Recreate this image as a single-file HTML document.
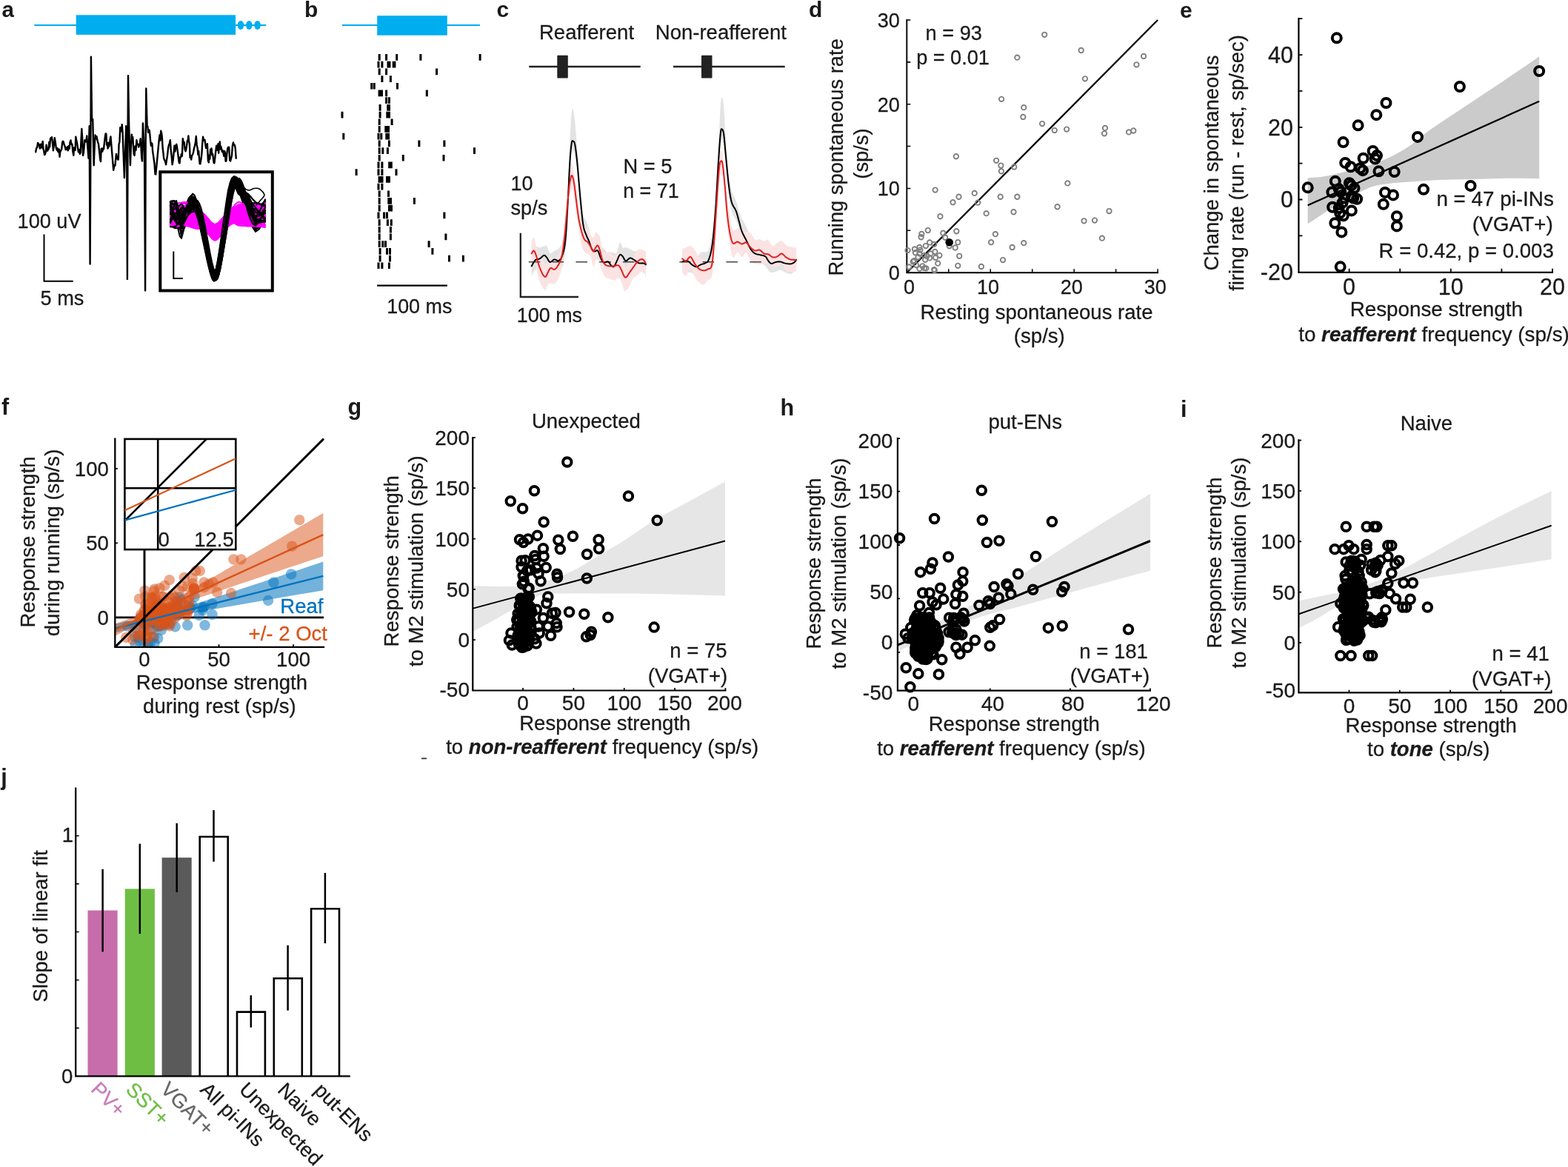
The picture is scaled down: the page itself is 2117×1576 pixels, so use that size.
<!DOCTYPE html>
<html lang="en"><head><meta charset="utf-8"><title>Figure</title>
<style>html,body{margin:0;padding:0;background:#fff}svg{display:block}text{stroke:#1a1a1a;stroke-width:.28px}.b{stroke:none}</style></head>
<body>
<svg width="2117" height="1576" viewBox="0 0 2117 1576" font-family="'Liberation Sans', sans-serif" font-size="27.55" fill="#1a1a1a">
<rect width="2117" height="1576" fill="#fff"/>
<g id="p-a">
<text x="2.5" y="22.8" font-weight="bold" class="b" font-size="29.5">a</text>
<line x1="46.3" y1="34" x2="359.3" y2="34" stroke="#00aeef" stroke-width="2"/>
<rect x="102.7" y="20.3" width="215.4" height="26.6" fill="#00aeef"/>
<ellipse cx="325" cy="34" rx="4.3" ry="6" fill="#00aeef"/>
<ellipse cx="336.3" cy="34" rx="4.3" ry="6" fill="#00aeef"/>
<ellipse cx="347.6" cy="34" rx="4.3" ry="6" fill="#00aeef"/>
<path d="M48.2 205.2L49.2 200.0L50.1 199.2L51.1 192.9L52.0 194.5L53.0 196.6L53.9 200.5L54.7 194.7L55.4 195.8L56.2 199.5L56.9 194.7L57.7 191.0L58.5 201.4L59.3 204.0L60.1 209.0L60.9 208.5L61.7 205.5L62.6 195.6L63.4 200.5L64.1 203.7L64.9 201.8L65.6 201.4L66.4 191.9L67.1 198.6L68.1 186.8L69.0 186.0L70.0 185.3L70.9 192.4L71.9 203.3L72.8 196.1L73.8 186.3L74.7 191.5L75.7 199.2L76.6 202.4L77.4 200.1L78.2 204.6L79.0 205.4L79.7 201.5L80.5 211.9L81.3 205.2L82.3 203.1L83.2 201.4L84.2 192.0L84.9 190.7L85.7 191.5L86.4 194.5L87.2 196.8L87.9 198.6L88.7 202.2L89.5 201.5L90.2 199.5L91.0 198.3L91.7 203.3L92.7 197.3L93.6 200.9L94.6 192.0L95.5 189.5L96.5 194.9L97.4 194.8L98.3 204.2L99.3 209.9L100.0 199.5L100.8 201.8L101.6 202.9L102.3 184.8L103.1 189.1L104.0 193.1L105.0 199.4L105.9 205.2L106.9 202.1L107.8 207.9L108.7 206.1L109.5 189.8L110.3 174.0L111.1 185.8L112.0 209.9L112.8 206.5L113.6 198.9L114.4 189.1L115.4 191.2L116.3 191.4L117.3 183.5L118.0 195.1L118.8 204.1L119.5 213.7L120.7 170.2L121.6 356.5L122.4 189.1L122.9 76.6L124.1 162.6L125.2 160.8L126.7 223.2L127.7 197.4L128.6 182.5L129.6 187.3L130.5 184.3L131.4 189.1L132.2 192.5L133.0 194.4L133.7 200.9L134.5 208.1L135.2 215.6L136.0 218.0L136.7 201.0L137.5 200.4L138.3 204.5L139.0 200.5L140.0 201.5L140.9 192.8L141.8 185.3L142.6 180.4L143.4 180.8L144.1 195.9L144.9 194.4L145.6 200.5L146.4 192.6L147.1 198.1L147.9 195.5L148.7 188.3L149.4 184.4L153.2 229.8L153.9 226.5L154.7 222.9L155.5 223.4L156.2 215.0L157.0 208.0L157.9 212.7L158.9 215.4L159.8 215.6L160.6 194.5L161.4 192.0L162.3 172.1L163.1 177.5L163.9 177.2L164.7 168.1L165.5 177.8L167.9 240.2L170.2 170.2L171.2 208.0L171.9 376.9L172.5 189.1L173.0 102.1L174.2 170.2L175.9 223.2L176.8 199.7L177.8 181.6L178.5 190.8L179.3 185.3L180.0 197.8L180.8 208.5L181.6 209.9L182.5 197.5L183.5 202.8L184.4 189.1L185.3 194.6L186.3 194.8L187.2 198.6L188.1 196.2L188.9 193.7L189.7 187.2L190.4 197.8L191.2 212.2L192.0 217.5L192.9 166.4L193.9 184.5L195.0 208.0L196.1 392.4L196.7 189.1L197.3 119.5L198.6 170.2L199.3 170.7L200.1 179.1L200.9 177.1L201.6 175.6L202.4 181.6L203.1 190.1L203.9 196.8L204.6 193.3L205.4 193.9L206.1 204.3L207.0 209.9L207.8 216.1L208.6 221.7L209.5 235.1L210.3 235.5L214.7 189.1L215.5 182.4L216.4 189.7L217.2 176.7L218.1 179.7L218.8 184.9L219.6 199.3L220.3 205.2L221.1 213.3L221.8 215.6L222.6 216.9L223.4 219.4L224.1 222.2L225.1 215.6L226.0 210.1L227.0 200.5L227.9 196.0L228.8 194.1L229.8 189.1L230.7 202.6L231.7 211.2L232.6 222.2L233.6 216.9L234.5 207.6L235.5 196.7L236.4 204.5L237.4 196.8L238.3 194.8L239.1 199.1L240.0 205.5L240.9 213.2L241.7 219.4L242.5 220.4L243.3 212.3L244.1 212.5L244.9 208.0L245.9 210.7L246.8 187.2L247.8 192.9L248.7 192.0L249.6 201.5L250.6 204.3L251.3 201.8L252.1 196.9L252.9 190.0L253.6 190.4L254.4 183.5L255.1 191.1L255.9 194.1L256.6 212.9L257.4 210.7L258.2 215.6L259.1 210.1L260.0 208.9L261.0 206.1L261.9 200.8L262.9 197.1L263.8 192.9L264.8 184.0L265.7 195.9L266.7 200.5L267.4 208.9L268.2 203.9L268.9 212.7L269.7 221.1L270.4 221.3L271.4 215.4L272.3 208.6L273.3 192.9L274.1 184.8L274.9 189.5L275.7 188.6L276.5 189.1L277.3 194.9L278.1 200.0L279.0 198.6L279.9 194.2L280.9 217.0L281.8 219.4L282.6 209.5L283.3 214.7L284.1 201.8L284.8 205.0L285.6 200.5L286.3 209.5L287.1 207.8L287.8 213.2L288.6 219.7L289.4 220.3L290.3 213.0L291.3 204.2L292.2 196.7L293.0 202.8L293.7 200.3L294.5 194.3L295.2 206.7L296.0 194.8L296.8 191.4L297.6 201.5L298.3 197.9L299.1 201.0L299.9 204.9L300.7 203.3L301.5 206.6L302.3 210.7L303.1 204.0L303.9 206.4L304.6 217.7L305.4 217.5L306.4 207.1L307.3 200.6L308.3 198.6L309.2 198.7L310.2 216.5L311.1 217.5L312.1 213.7L313.0 209.8L313.9 196.7L314.9 192.4L315.8 196.1L316.8 195.7L317.7 199.9L318.7 213.7" fill="none" stroke="#000" stroke-width="2.4" stroke-linejoin="round" stroke-linecap="round"/>
<path d="M59.5 316.5 L59.5 379.7 L98.7 379.7" fill="none" stroke="#000" stroke-width="2"/>
<text x="23.6" y="307.6" font-size="27.1">100 uV</text>
<text x="54.5" y="411.8" font-size="27.2">5 ms</text>
<rect x="216.3" y="232.2" width="151.5" height="160.3" fill="#fff" stroke="#000" stroke-width="4"/>
<g fill="none" stroke-linejoin="round" stroke-linecap="round">
<path d="M230.0 290.4L232.1 290.8L235.1 291.4L238.0 293.2L240.5 297.9L242.8 303.7L245.0 305.7L246.9 301.0L248.5 292.4L250.5 284.0L253.0 276.1L255.8 268.5L258.6 264.8L261.3 266.8L264.0 272.8L266.7 281.1L269.3 292.1L272.0 305.3L274.7 318.7L277.5 332.3L280.2 346.0L282.8 357.2L285.0 365.4L287.1 371.0L289.0 373.1L290.9 371.4L292.8 366.1L294.9 357.2L297.4 343.6L300.2 326.4L303.0 309.1L305.7 291.6L308.4 274.0L311.0 259.9L313.6 250.5L316.0 244.6L318.5 242.6L321.0 245.9L323.5 253.1L326.2 259.9L329.0 264.9L331.9 269.5L335.0 274.3L338.1 281.0L341.4 288.0L345.0 291.4L349.6 288.1L354.5 281.2L358.0 276.1" stroke="#000" stroke-width="2.2"/>
<path d="M230.0 277.7L232.1 282.4L235.1 289.2L238.0 295.1L240.4 300.2L242.7 304.5L245.0 305.5L247.5 301.1L250.0 293.5L252.6 286.4L255.3 280.5L258.0 275.2L260.7 272.7L263.4 273.8L266.1 277.7L268.8 284.3L271.5 294.4L274.2 307.1L276.8 320.2L279.6 333.9L282.4 347.9L284.9 359.4L287.1 367.7L289.2 373.4L291.2 375.5L293.1 373.8L294.9 368.4L297.0 359.4L299.5 345.5L302.3 328.0L305.1 310.4L307.8 292.6L310.5 274.7L313.1 260.5L315.7 250.9L318.1 244.9L320.6 242.8L323.2 246.1L325.8 253.4L328.3 260.5L330.5 265.8L332.5 271.0L335.0 276.8L338.0 284.7L341.3 293.2L345.0 298.5L349.6 298.3L354.5 295.0L358.0 292.4" stroke="#000" stroke-width="2.2"/>
<path d="M230.0 300.0L232.1 294.9L235.1 288.0L238.0 284.3L240.6 287.4L243.0 293.8L245.0 297.6L246.1 296.2L246.8 292.1L248.1 288.0L250.5 283.7L253.5 279.3L256.5 277.2L259.3 277.8L262.1 280.7L264.9 286.4L267.7 295.9L270.5 308.3L273.3 321.2L276.2 334.8L279.1 348.9L281.8 360.5L284.1 368.8L286.2 374.6L288.3 376.7L290.3 374.9L292.2 369.5L294.4 360.5L297.0 346.6L299.9 329.0L302.8 311.3L305.6 293.5L308.4 275.5L311.2 261.2L313.8 251.6L316.4 245.6L319.0 243.5L321.6 246.3L324.3 253.1L327.0 261.2L329.6 271.2L332.2 282.5L335.0 290.3L338.1 291.5L341.4 289.2L345.0 288.1L349.6 290.5L354.5 294.2L358.0 296.9" stroke="#000" stroke-width="2.2"/>
<path d="M230.0 277.4L232.1 278.1L235.1 279.2L238.0 280.6L240.5 282.3L242.9 284.4L245.0 286.1L246.7 287.8L248.1 289.2L249.9 289.3L252.5 287.0L255.4 283.4L258.3 281.5L261.1 281.6L263.9 283.4L266.7 288.1L269.5 297.1L272.2 309.1L275.0 321.7L277.9 335.2L280.7 349.4L283.4 361.0L285.7 369.3L287.8 375.0L289.9 377.2L291.8 375.4L293.8 370.0L295.9 361.0L298.6 347.1L301.4 329.5L304.3 311.9L307.1 294.1L309.9 276.1L312.7 261.8L315.3 252.2L317.8 246.2L320.4 244.1L323.1 246.9L325.8 253.7L328.4 261.8L330.5 272.3L332.6 284.2L335.0 292.4L338.0 293.9L341.3 291.8L345.0 290.2L349.6 290.7L354.5 291.6L358.0 292.4" stroke="#000" stroke-width="2.2"/>
<path d="M230.0 285.2L232.1 283.9L235.1 282.2L238.0 281.6L240.4 283.2L242.8 285.9L245.0 287.8L247.0 288.3L248.9 287.9L251.1 286.6L253.6 283.0L256.3 278.4L259.1 275.9L261.8 276.6L264.4 279.4L267.1 285.0L269.8 294.3L272.4 306.5L275.1 319.1L277.8 332.5L280.6 346.4L283.1 357.7L285.3 365.9L287.4 371.5L289.3 373.6L291.2 371.9L293.0 366.6L295.1 357.7L297.6 344.1L300.4 326.8L303.1 309.5L305.8 292.0L308.5 274.3L311.2 260.3L313.7 250.8L316.1 244.9L318.6 242.9L321.0 245.7L323.5 252.3L326.2 260.3L329.0 270.6L331.9 282.1L335.0 289.0L338.1 286.8L341.4 279.9L345.0 275.1L349.6 275.3L354.5 277.5L358.0 279.2" stroke="#000" stroke-width="2.2"/>
<path d="M230.0 303.7L232.1 300.9L235.1 297.0L238.0 295.0L240.4 297.1L242.8 301.0L245.0 302.6L247.0 299.6L248.8 294.2L251.0 289.1L253.6 284.5L256.4 280.2L259.3 278.1L262.1 278.8L264.8 281.7L267.6 287.4L270.4 297.1L273.1 309.6L275.9 322.6L278.8 336.3L281.6 350.6L284.2 362.3L286.5 370.7L288.6 376.5L290.7 378.7L292.6 376.9L294.5 371.4L296.7 362.3L299.3 348.2L302.1 330.5L305.0 312.6L307.8 294.6L310.6 276.5L313.3 262.0L315.9 252.3L318.5 246.2L321.0 244.1L323.7 247.9L326.4 255.6L328.9 262.0L330.9 264.0L332.7 264.8L335.0 268.6L337.9 279.9L341.3 294.2L345.0 303.4L349.6 302.3L354.5 296.1L358.0 291.2" stroke="#000" stroke-width="2.2"/>
<path d="M230.0 295.2L232.1 292.2L235.1 288.2L238.0 284.7L240.3 282.2L242.5 280.3L245.0 279.4L248.0 280.6L251.3 282.8L254.4 283.0L257.0 278.7L259.3 272.3L261.7 268.9L264.1 270.1L266.6 274.1L269.0 280.9L271.4 291.2L273.9 304.3L276.3 317.7L278.8 331.8L281.3 346.2L283.6 358.0L285.6 366.5L287.5 372.4L289.3 374.6L291.0 372.8L292.6 367.3L294.5 358.0L296.8 343.8L299.3 325.8L301.8 307.7L304.3 289.4L306.8 271.0L309.2 256.3L311.4 246.5L313.7 240.3L315.9 238.2L318.0 241.9L320.1 249.6L322.8 256.3L326.6 259.4L330.9 261.5L335.0 265.8L338.4 275.6L341.5 287.6L345.0 296.1L349.6 298.2L354.5 296.8L358.0 295.4" stroke="#000" stroke-width="2.2"/>
<path d="M230.0 299.2L232.1 301.1L235.1 303.7L238.0 304.2L240.5 301.2L242.9 296.3L245.0 291.8L246.4 289.1L247.6 286.8L249.1 283.3L251.5 276.6L254.4 268.7L257.3 264.6L260.0 266.6L262.8 272.4L265.5 280.5L268.2 291.1L270.9 304.0L273.7 316.9L276.5 330.1L279.3 343.4L281.9 354.3L284.1 362.2L286.2 367.7L288.2 369.7L290.1 368.0L292.0 362.9L294.1 354.3L296.7 341.1L299.5 324.4L302.3 307.6L305.1 290.6L307.8 273.6L310.5 260.0L313.1 250.8L315.5 245.1L318.1 243.2L320.6 245.7L323.1 252.1L325.8 260.0L328.8 270.6L331.8 282.9L335.0 290.8L338.2 291.1L341.4 287.1L345.0 282.8L349.6 278.9L354.5 274.6L358.0 271.6" stroke="#000" stroke-width="2.2"/>
<path d="M230.0 279.2L232.1 283.3L235.1 289.2L238.0 294.7L240.3 300.3L242.4 305.5L245.0 306.8L248.5 301.6L252.5 292.5L256.0 284.4L258.7 278.4L261.0 273.4L263.3 271.2L265.7 272.2L268.1 276.0L270.5 282.4L272.9 292.2L275.4 304.5L277.8 317.1L280.2 330.4L282.7 343.9L285.0 355.0L287.0 363.1L288.9 368.6L290.6 370.7L292.3 369.0L294.0 363.8L295.9 355.0L298.2 341.6L300.7 324.7L303.1 307.7L305.6 290.5L308.0 273.1L310.4 259.3L312.7 250.0L314.9 244.3L317.1 242.3L319.2 245.7L321.4 252.9L324.0 259.3L327.4 263.0L331.3 265.9L335.0 269.3L338.3 274.9L341.5 280.9L345.0 284.2L349.6 282.0L354.5 277.1L358.0 273.3" stroke="#000" stroke-width="2.2"/>
<path d="M230.0 291.9L232.1 292.0L235.1 292.2L238.0 292.8L240.3 294.7L242.5 297.2L245.0 297.7L248.1 295.3L251.4 290.9L254.5 286.3L257.3 280.9L259.8 275.1L262.3 272.2L264.9 273.4L267.5 277.4L270.1 284.2L272.7 294.5L275.3 307.6L277.9 321.1L280.6 335.2L283.3 349.6L285.7 361.5L287.9 370.0L289.9 375.9L291.8 378.1L293.6 376.3L295.4 370.7L297.4 361.5L299.9 347.2L302.6 329.2L305.3 311.0L307.9 292.7L310.5 274.3L313.1 259.6L315.5 249.8L317.9 243.6L320.3 241.5L322.7 244.4L325.2 251.3L327.7 259.6L330.0 269.9L332.4 281.5L335.0 289.9L338.0 292.7L341.3 292.3L345.0 291.1L349.6 289.3L354.5 286.6L358.0 284.6" stroke="#000" stroke-width="2.2"/>
<path d="M230.0 289.7L232.1 284.6L235.1 277.8L238.0 274.4L240.3 278.1L242.5 285.2L245.0 290.2L248.2 290.7L251.7 289.0L255.0 286.5L257.7 282.8L260.1 278.3L262.6 276.0L265.1 276.6L267.6 279.4L270.1 284.9L272.7 294.2L275.2 306.3L277.7 318.8L280.3 332.1L282.9 345.8L285.3 357.1L287.4 365.2L289.3 370.8L291.2 372.9L293.0 371.1L294.7 365.9L296.7 357.1L299.0 343.5L301.6 326.4L304.2 309.2L306.8 291.9L309.3 274.4L311.8 260.4L314.2 251.1L316.5 245.2L318.8 243.2L321.2 246.4L323.5 253.4L326.0 260.4L328.9 267.1L331.9 273.9L335.0 278.2L338.1 277.9L341.4 275.3L345.0 274.7L349.6 278.9L354.5 285.3L358.0 289.9" stroke="#000" stroke-width="2.2"/>
<path d="M230.0 300.5L232.1 298.4L235.1 295.5L238.0 292.6L240.3 289.7L242.4 287.0L245.0 285.0L248.5 284.8L252.4 285.5L255.9 284.7L258.6 280.1L260.9 274.1L263.2 270.9L265.7 272.0L268.1 275.9L270.5 282.6L273.0 292.7L275.4 305.5L277.8 318.7L280.3 332.5L282.8 346.6L285.1 358.2L287.1 366.5L289.0 372.3L290.8 374.4L292.5 372.6L294.2 367.2L296.1 358.2L298.4 344.2L300.9 326.6L303.4 308.8L305.8 290.9L308.3 272.9L310.7 258.5L312.9 248.9L315.2 242.8L317.4 240.8L319.6 244.1L321.8 251.5L324.3 258.5L327.6 263.7L331.4 268.7L335.0 274.0L338.3 280.1L341.5 286.6L345.0 292.0L349.6 295.6L354.5 298.1L358.0 299.7" stroke="#000" stroke-width="2.2"/>
<path d="M230.0 282.8L232.1 283.7L235.1 285.1L238.0 286.2L240.4 286.8L242.8 287.3L245.0 287.5L247.0 287.8L248.8 287.9L250.9 286.8L253.3 283.2L256.0 278.5L258.7 276.0L261.3 276.6L263.9 279.5L266.5 285.2L269.1 294.8L271.7 307.2L274.3 320.1L276.9 333.8L279.6 348.0L282.1 359.6L284.2 367.9L286.2 373.7L288.1 375.9L289.9 374.1L291.7 368.7L293.7 359.6L296.2 345.6L298.9 328.0L301.5 310.3L304.2 292.4L306.8 274.4L309.3 260.0L311.8 250.3L314.1 244.3L316.5 242.2L318.8 245.7L321.2 253.2L323.9 260.0L327.4 263.9L331.3 267.1L335.0 271.5L338.3 279.4L341.5 288.5L345.0 293.6L349.6 291.3L354.5 285.0L358.0 280.2" stroke="#000" stroke-width="2.2"/>
<path d="M230.0 277.3L232.1 281.1L235.1 286.3L238.0 291.0L240.5 294.8L242.9 297.9L245.0 298.7L246.5 296.0L247.7 291.0L249.4 285.4L251.9 278.3L254.9 270.7L257.8 266.8L260.6 268.8L263.4 274.6L266.3 282.6L269.1 293.2L271.9 306.1L274.7 319.0L277.6 332.2L280.5 345.5L283.1 356.3L285.5 364.2L287.6 369.7L289.7 371.7L291.6 370.0L293.6 364.9L295.8 356.3L298.4 343.1L301.3 326.4L304.2 309.7L307.0 292.8L309.9 275.7L312.6 262.1L315.3 253.0L317.9 247.3L320.4 245.3L323.2 248.8L325.9 256.0L328.5 262.1L330.6 265.0L332.6 266.8L335.0 269.6L338.0 274.6L341.3 280.5L345.0 285.5L349.6 288.8L354.5 291.3L358.0 292.9" stroke="#000" stroke-width="2.2"/>
<path d="M230.0 280.2L232.1 286.1L235.1 294.2L238.0 300.9L240.3 305.6L242.4 308.8L245.0 308.7L248.4 303.4L252.3 294.8L255.7 287.3L258.4 282.2L260.8 278.3L263.1 276.5L265.5 277.2L268.0 280.0L270.4 285.7L272.9 295.3L275.4 307.7L277.8 320.6L280.3 334.2L282.8 348.3L285.2 359.9L287.2 368.2L289.0 374.0L290.9 376.2L292.6 374.4L294.3 369.0L296.2 359.9L298.5 346.0L301.0 328.4L303.5 310.7L306.0 292.9L308.5 274.9L310.9 260.5L313.2 250.9L315.4 244.9L317.7 242.8L319.9 246.7L322.1 254.5L324.7 260.5L327.9 261.2L331.5 260.1L335.0 262.8L338.2 274.4L341.5 289.7L345.0 298.8L349.6 295.3L354.5 285.5L358.0 278.1" stroke="#000" stroke-width="2.2"/>
<path d="M230.0 278.3L232.1 284.6L235.1 293.3L238.0 300.0L240.3 303.4L242.6 304.8L245.0 304.0L247.9 299.7L251.1 293.2L254.1 287.9L256.7 285.1L259.2 283.5L261.7 282.9L264.2 282.6L266.8 283.3L269.3 287.2L271.9 295.8L274.4 307.6L277.0 320.2L279.6 333.9L282.2 348.4L284.6 360.2L286.7 368.7L288.6 374.6L290.5 376.8L292.3 374.9L294.0 369.4L296.0 360.2L298.4 346.1L301.0 328.2L303.7 310.2L306.2 292.0L308.8 273.8L311.3 259.2L313.7 249.4L316.0 243.3L318.4 241.1L320.7 244.9L323.0 252.7L325.6 259.2L328.6 261.6L331.7 262.6L335.0 265.0L338.2 270.3L341.4 277.0L345.0 283.1L349.6 288.3L354.5 292.8L358.0 296.0" stroke="#000" stroke-width="2.2"/>
<path d="M230.0 288.1L232.1 292.2L235.1 297.6L238.0 300.6L240.5 298.9L242.8 294.8L245.0 291.2L246.8 289.4L248.3 288.2L250.3 286.6L252.9 283.7L255.8 280.5L258.8 278.9L261.6 279.1L264.4 280.8L267.3 285.5L270.1 294.3L272.9 306.0L275.8 318.3L278.7 331.6L281.6 345.4L284.2 356.8L286.6 364.9L288.7 370.5L290.8 372.6L292.8 370.9L294.8 365.6L297.0 356.8L299.6 343.2L302.6 326.0L305.5 308.7L308.3 291.3L311.2 273.7L314.0 259.7L316.6 250.3L319.2 244.4L321.8 242.4L324.6 245.5L327.4 252.5L329.9 259.7L331.6 266.7L333.0 273.9L335.0 279.3L337.9 281.6L341.3 282.1L345.0 282.7L349.6 284.5L354.5 286.4L358.0 287.8" stroke="#000" stroke-width="2.2"/>
<path d="M230.0 302.8L232.1 304.9L235.1 307.7L238.0 308.1L240.5 304.3L242.8 298.3L245.0 293.3L246.9 291.2L248.6 290.2L250.6 288.3L253.1 283.6L255.8 278.0L258.5 275.1L261.1 276.1L263.7 279.9L266.3 286.4L269.0 296.1L271.6 308.4L274.2 321.0L276.9 334.3L279.6 347.9L282.1 359.0L284.2 367.0L286.2 372.5L288.2 374.6L290.0 372.9L291.8 367.7L293.9 359.0L296.3 345.6L299.0 328.6L301.7 311.6L304.4 294.4L307.0 277.1L309.6 263.2L312.0 254.0L314.4 248.2L316.8 246.2L319.2 248.9L321.6 255.3L324.3 263.2L327.7 272.7L331.4 283.6L335.0 292.7L338.3 299.9L341.5 305.3L345.0 306.2L349.6 299.4L354.5 288.2L358.0 279.9" stroke="#000" stroke-width="2.2"/>
<path d="M230.0 292.2L232.1 296.0L235.1 301.2L238.0 305.2L240.5 307.6L242.8 308.7L245.0 307.3L246.8 302.1L248.5 294.4L250.5 286.8L253.1 278.8L256.1 270.9L259.0 267.0L261.9 269.1L264.7 275.3L267.6 283.9L270.4 295.1L273.3 308.7L276.1 322.5L279.0 336.4L282.0 350.5L284.7 362.0L287.0 370.4L289.2 376.2L291.3 378.4L293.3 376.6L295.2 371.2L297.5 362.0L300.1 348.0L303.1 330.4L306.0 312.6L308.9 294.6L311.7 276.5L314.5 262.1L317.2 252.4L319.8 246.4L322.4 244.3L325.3 247.2L328.1 254.1L330.6 262.1L332.1 270.8L333.2 280.6L335.0 289.4L337.8 298.0L341.2 305.7L345.0 307.8L349.6 300.0L354.5 286.6L358.0 276.6" stroke="#000" stroke-width="2.2"/>
<path d="M230.0 303.2L232.1 304.1L235.1 305.3L238.0 305.3L240.3 303.7L242.5 301.1L245.0 298.0L248.0 294.8L251.4 291.1L254.4 286.5L257.0 279.1L259.3 270.7L261.7 266.5L264.1 268.6L266.5 274.8L268.9 283.5L271.4 294.9L273.8 308.7L276.2 322.6L278.7 336.8L281.2 351.0L283.5 362.7L285.5 371.2L287.3 377.1L289.1 379.2L290.8 377.4L292.4 371.9L294.3 362.7L296.6 348.5L299.1 330.6L301.6 312.6L304.0 294.4L306.5 276.1L308.8 261.5L311.1 251.7L313.3 245.6L315.6 243.4L317.6 247.4L319.7 255.4L322.5 261.5L326.3 261.5L330.8 259.6L335.0 261.9L338.4 274.2L341.5 290.7L345.0 300.4L349.6 296.6L354.5 286.1L358.0 278.0" stroke="#000" stroke-width="2.2"/>
<path d="M230.0 298.5L232.1 289.9L235.1 278.6L238.0 274.9L240.5 287.6L242.9 307.7L245.0 319.0L246.7 312.1L248.1 296.2L249.9 282.9L252.4 275.7L255.3 271.1L258.1 269.2L260.9 270.3L263.6 274.2L266.4 280.8L269.1 290.9L271.9 303.6L274.7 316.6L277.5 330.2L280.3 344.3L282.9 355.7L285.2 364.0L287.3 369.7L289.3 371.8L291.3 370.1L293.2 364.7L295.3 355.7L297.9 341.9L300.7 324.4L303.6 306.8L306.3 289.1L309.1 271.3L311.8 257.0L314.4 247.4L316.9 241.5L319.5 239.4L322.1 242.2L324.7 248.9L327.3 257.0L329.8 267.4L332.3 279.2L335.0 287.7L338.1 290.1L341.4 289.1L345.0 288.6L349.6 290.1L354.5 292.0L358.0 293.3" stroke="#000" stroke-width="2"/>
<path d="M230.0 295.4L232.1 296.4L235.1 298.1L238.0 301.4L240.4 309.3L242.7 318.8L245.0 322.0L247.4 313.0L249.8 297.7L252.2 285.9L254.7 281.6L257.2 280.9L259.8 281.1L262.3 280.8L264.8 281.5L267.3 285.1L269.8 293.2L272.3 304.4L274.9 316.2L277.4 329.1L280.0 342.7L282.4 353.8L284.5 361.8L286.4 367.3L288.3 369.4L290.0 367.7L291.8 362.5L293.7 353.8L296.1 340.5L298.7 323.7L301.3 306.8L303.8 289.7L306.4 272.5L308.9 258.8L311.2 249.6L313.5 243.8L315.8 241.9L318.0 244.7L320.3 251.3L323.0 258.8L326.7 266.6L331.0 275.3L335.0 284.1L338.4 294.8L341.5 305.7L345.0 311.0L349.6 306.3L354.5 296.0L358.0 288.3" stroke="#000" stroke-width="2"/>
<path d="M230.0 289.3L232.1 284.1L235.1 277.4L238.0 276.2L240.2 287.1L242.3 303.5L245.0 313.0L248.8 308.4L253.2 296.9L257.0 287.1L259.8 281.7L262.1 278.1L264.3 276.6L266.7 277.2L269.2 280.0L271.6 285.5L274.0 294.8L276.4 306.8L278.9 319.3L281.4 332.5L283.8 346.2L286.2 357.5L288.2 365.6L290.0 371.1L291.8 373.2L293.5 371.5L295.2 366.3L297.1 357.5L299.4 344.0L301.9 326.9L304.4 309.8L306.8 292.4L309.2 275.0L311.6 261.1L313.9 251.7L316.1 245.9L318.4 243.9L320.6 246.8L322.8 253.5L325.3 261.1L328.3 268.9L331.6 277.7L335.0 286.5L338.2 296.9L341.4 307.4L345.0 313.0L349.6 309.8L354.5 301.7L358.0 295.6" stroke="#000" stroke-width="2"/>
<path d="M230.0 276.9L232.1 281.5L235.1 287.8L238.0 292.1L240.4 292.3L242.6 290.5L245.0 289.1L247.8 289.3L250.7 289.9L253.4 289.9L256.0 288.4L258.3 286.2L260.7 285.0L263.1 284.7L265.6 285.4L268.0 289.2L270.4 297.6L272.9 309.1L275.3 321.3L277.8 334.6L280.3 348.7L282.6 360.2L284.6 368.5L286.4 374.2L288.2 376.3L289.9 374.5L291.6 369.2L293.5 360.2L295.8 346.5L298.3 329.1L300.8 311.6L303.2 293.9L305.7 276.1L308.0 261.9L310.3 252.4L312.5 246.5L314.8 244.4L316.8 247.9L318.9 255.4L321.7 261.9L325.8 264.7L330.6 266.6L335.0 271.5L338.5 283.9L341.6 299.5L345.0 309.0L349.6 307.0L354.5 299.0L358.0 292.9" stroke="#000" stroke-width="2"/>
<path d="M230.0 275.7L232.1 273.4L235.1 271.0L238.0 273.6L240.4 287.4L242.6 306.4L245.0 317.0L247.7 311.4L250.6 297.5L253.4 286.0L256.1 280.3L258.7 276.8L261.2 275.5L263.8 276.2L266.4 278.9L269.0 284.4L271.6 293.6L274.2 305.5L276.8 317.9L279.4 331.1L282.1 344.7L284.6 355.8L286.7 363.8L288.7 369.4L290.6 371.5L292.4 369.7L294.2 364.5L296.2 355.8L298.7 342.4L301.3 325.5L304.0 308.5L306.6 291.3L309.2 274.0L311.8 260.2L314.2 250.9L316.6 245.1L319.0 243.1L321.4 246.0L323.8 252.7L326.4 260.2L329.1 267.9L332.0 276.4L335.0 284.7L338.1 294.5L341.4 304.0L345.0 307.0L349.6 298.0L354.5 282.5L358.0 271.1" stroke="#000" stroke-width="2"/>
<path d="M230.0 278.0L232.6 278.0L236.3 278.0L240.0 278.0L243.1 277.9L246.3 277.9L250.0 278.0L254.7 278.2L260.0 278.7L265.0 280.0L269.5 282.7L273.8 286.2L278.0 290.0L282.1 294.7L286.0 299.6L290.0 302.0L294.1 300.0L298.1 295.5L302.0 291.0L305.5 287.0L308.7 283.0L312.0 280.0L315.3 278.6L318.5 278.2L322.0 278.0L325.9 277.8L329.9 277.9L334.0 278.0L338.0 278.3L342.0 278.7L346.0 279.0L350.4 279.1L354.9 279.0L358.0 279.0L358.0 303.0L354.9 303.0L350.4 303.1L346.0 303.0L342.0 302.7L338.0 302.3L334.0 302.0L329.9 301.9L325.9 301.8L322.0 302.0L318.5 302.2L315.3 302.6L312.0 304.0L308.7 307.0L305.5 311.0L302.0 315.0L298.1 319.5L294.1 324.0L290.0 326.0L286.0 323.6L282.1 318.7L278.0 314.0L273.8 310.2L269.5 306.7L265.0 304.0L260.0 302.7L254.7 302.2L250.0 302.0L246.3 301.9L243.1 301.9L240.0 302.0L236.3 302.0L232.6 302.0L230.0 302.0 Z" fill="#ff00ff" stroke="none"/>
<path d="M230.0 289.9L232.6 289.6L236.3 289.3L240.0 289.1L243.1 289.3L246.3 289.7L250.0 289.8L254.7 288.6L260.0 287.2L265.0 287.6L269.5 291.5L273.8 297.3L278.0 302.5L282.1 306.8L286.0 310.5L290.0 312.2L294.1 310.5L298.1 306.7L302.0 302.8L305.5 299.1L308.7 295.3L312.0 292.1L315.3 289.8L318.5 288.2L322.0 287.5L325.9 288.6L329.9 290.7L334.0 292.0L338.0 291.6L342.0 290.4L346.0 289.3L350.4 288.2L354.9 287.2L358.0 286.5" stroke="#ff00ff" stroke-width="1.8"/>
<path d="M230.0 280.0L232.6 280.6L236.3 281.4L240.0 282.2L243.1 282.9L246.3 283.5L250.0 283.7L254.7 282.6L260.0 281.2L265.0 281.6L269.5 285.5L273.8 291.3L278.0 296.7L282.1 301.7L286.0 306.3L290.0 308.5L294.1 306.7L298.1 302.4L302.0 298.3L305.5 295.1L308.7 292.0L312.0 289.1L315.3 286.2L318.5 283.6L322.0 282.0L325.9 282.2L329.9 283.6L334.0 284.2L338.0 282.9L342.0 281.0L346.0 279.9L350.4 280.8L354.9 282.6L358.0 283.9" stroke="#ff00ff" stroke-width="1.8"/>
<path d="M230.0 304.8L232.6 305.1L236.3 305.5L240.0 305.6L243.1 305.0L246.3 304.0L250.0 303.4L254.7 303.4L260.0 303.7L265.0 304.3L269.5 304.9L273.8 305.6L278.0 307.5L282.1 311.8L286.0 317.2L290.0 320.1L294.1 318.3L298.1 314.0L302.0 309.7L305.5 305.7L308.7 301.7L312.0 299.5L315.3 300.3L318.5 302.9L322.0 304.7L325.9 304.6L329.9 303.7L334.0 303.0L338.0 302.6L342.0 302.4L346.0 302.3L350.4 302.6L354.9 303.1L358.0 303.4" stroke="#ff00ff" stroke-width="1.8"/>
<path d="M230.0 291.3L232.6 291.5L236.3 291.9L240.0 291.9L243.1 291.2L246.3 290.2L250.0 289.9L254.7 291.1L260.0 293.0L265.0 295.1L269.5 297.0L273.8 299.1L278.0 302.0L282.1 306.9L286.0 312.7L290.0 315.4L294.1 312.8L298.1 307.3L302.0 302.1L305.5 297.9L308.7 294.1L312.0 291.3L315.3 290.3L318.5 290.4L322.0 290.7L325.9 291.2L329.9 291.9L334.0 292.2L338.0 291.7L342.0 290.9L346.0 290.3L350.4 290.2L354.9 290.3L358.0 290.4" stroke="#ff00ff" stroke-width="1.8"/>
<path d="M230.0 281.1L232.6 280.2L236.3 279.0L240.0 278.1L243.1 277.8L246.3 277.8L250.0 277.9L254.7 277.2L260.0 276.5L265.0 277.8L269.5 282.8L273.8 289.8L278.0 296.0L282.1 300.9L286.0 304.9L290.0 306.7L294.1 305.0L298.1 301.1L302.0 297.0L305.5 293.2L308.7 289.3L312.0 286.0L315.3 283.6L318.5 281.9L322.0 280.2L325.9 278.4L329.9 276.6L334.0 275.4L338.0 274.9L342.0 275.0L346.0 275.7L350.4 277.6L354.9 280.3L358.0 282.2" stroke="#ff00ff" stroke-width="1.8"/>
<path d="M230.0 294.1L232.6 294.5L236.3 295.1L240.0 295.8L243.1 296.5L246.3 297.2L250.0 297.5L254.7 296.4L260.0 294.8L265.0 294.6L269.5 296.9L273.8 300.5L278.0 304.5L282.1 309.5L286.0 314.8L290.0 317.4L294.1 315.2L298.1 310.1L302.0 305.3L305.5 301.6L308.7 298.1L312.0 295.5L315.3 294.2L318.5 293.8L322.0 293.5L325.9 292.9L329.9 292.3L334.0 292.5L338.0 294.2L342.0 296.7L346.0 298.4L350.4 298.6L354.9 298.2L358.0 297.8" stroke="#ff00ff" stroke-width="1.8"/>
<path d="M230.0 303.4L232.6 303.7L236.3 304.2L240.0 304.5L243.1 304.4L246.3 304.3L250.0 304.6L254.7 305.9L260.0 307.6L265.0 309.0L269.5 309.1L273.8 308.7L278.0 309.5L282.1 313.1L286.0 317.7L290.0 320.0L294.1 318.1L298.1 313.9L302.0 309.7L305.5 306.1L308.7 302.4L312.0 300.1L315.3 299.8L318.5 300.7L322.0 301.7L325.9 302.4L329.9 303.3L334.0 304.0L338.0 304.4L342.0 304.6L346.0 304.9L350.4 305.4L354.9 306.0L358.0 306.4" stroke="#ff00ff" stroke-width="1.8"/>
<path d="M230.0 304.1L232.6 304.9L236.3 305.8L240.0 306.0L243.1 304.4L246.3 302.1L250.0 301.0L254.7 302.5L260.0 305.2L265.0 307.3L269.5 307.4L273.8 306.9L278.0 307.8L282.1 312.0L286.0 317.7L290.0 320.8L294.1 319.3L298.1 315.2L302.0 311.0L305.5 306.8L308.7 302.4L312.0 299.7L315.3 300.0L318.5 302.0L322.0 303.8L325.9 304.6L329.9 305.1L334.0 305.5L338.0 305.6L342.0 305.6L346.0 305.7L350.4 306.1L354.9 306.6L358.0 307.0" stroke="#ff00ff" stroke-width="1.8"/>
<path d="M230.0 293.4L232.6 294.3L236.3 295.5L240.0 296.2L243.1 296.3L246.3 296.0L250.0 295.6L254.7 294.6L260.0 293.4L265.0 293.5L269.5 295.6L273.8 299.0L278.0 302.8L282.1 307.9L286.0 313.6L290.0 316.3L294.1 313.9L298.1 308.6L302.0 303.6L305.5 299.8L308.7 296.3L312.0 293.6L315.3 292.1L318.5 291.3L322.0 291.0L325.9 291.2L329.9 291.9L334.0 292.7L338.0 294.1L342.0 295.6L346.0 296.4L350.4 295.8L354.9 294.3L358.0 293.3" stroke="#ff00ff" stroke-width="1.8"/>
<path d="M230.0 297.3L232.6 296.2L236.3 294.7L240.0 293.9L243.1 294.2L246.3 295.3L250.0 296.5L254.7 297.8L260.0 299.2L265.0 300.7L269.5 302.1L273.8 303.4L278.0 305.4L282.1 309.1L286.0 313.4L290.0 315.6L294.1 314.4L298.1 311.2L302.0 307.3L305.5 302.5L308.7 297.1L312.0 293.8L315.3 294.4L318.5 297.1L322.0 299.1L325.9 299.0L329.9 298.3L334.0 297.9L338.0 298.5L342.0 299.5L346.0 299.6L350.4 298.0L354.9 295.5L358.0 293.7" stroke="#ff00ff" stroke-width="1.8"/>
<path d="M230.0 305.1L232.6 304.5L236.3 303.8L240.0 303.4L243.1 303.6L246.3 304.2L250.0 304.3L254.7 303.2L260.0 301.8L265.0 301.3L269.5 302.4L273.8 304.6L278.0 307.4L282.1 311.7L286.0 316.8L290.0 319.5L294.1 318.1L298.1 314.3L302.0 310.3L305.5 306.2L308.7 301.9L312.0 298.9L315.3 298.2L318.5 298.9L322.0 299.8L325.9 300.8L329.9 302.1L334.0 303.2L338.0 304.0L342.0 304.6L346.0 304.6L350.4 303.3L354.9 301.5L358.0 300.1" stroke="#ff00ff" stroke-width="1.8"/>
<path d="M230.0 300.7L232.6 300.4L236.3 300.0L240.0 299.8L243.1 300.0L246.3 300.4L250.0 300.8L254.7 301.0L260.0 301.3L265.0 302.2L269.5 304.0L273.8 306.5L278.0 309.3L282.1 313.3L286.0 317.5L290.0 319.4L294.1 317.4L298.1 313.0L302.0 308.8L305.5 305.3L308.7 302.0L312.0 299.7L315.3 298.9L318.5 299.2L322.0 299.8L325.9 300.5L329.9 301.6L334.0 302.7L338.0 303.9L342.0 305.1L346.0 305.7L350.4 305.0L354.9 303.8L358.0 302.9" stroke="#ff00ff" stroke-width="1.8"/>
<path d="M230.0 274.7L232.6 274.9L236.3 275.1L240.0 275.0L243.1 274.2L246.3 273.1L250.0 272.9L254.7 273.9L260.0 275.8L265.0 278.9L269.5 283.9L273.8 290.0L278.0 295.6L282.1 300.6L286.0 305.1L290.0 306.9L294.1 304.6L298.1 299.6L302.0 294.9L305.5 291.1L308.7 287.5L312.0 284.4L315.3 282.1L318.5 280.3L322.0 278.6L325.9 276.3L329.9 274.1L334.0 272.9L338.0 273.5L342.0 275.2L346.0 276.4L350.4 276.7L354.9 276.6L358.0 276.5" stroke="#ff00ff" stroke-width="1.8"/>
<path d="M230.0 289.1L232.6 289.6L236.3 290.4L240.0 291.0L243.1 291.5L246.3 291.8L250.0 292.2L254.7 292.6L260.0 293.0L265.0 294.1L269.5 296.1L273.8 298.8L278.0 302.0L282.1 306.6L286.0 311.7L290.0 314.3L294.1 312.5L298.1 308.2L302.0 303.9L305.5 299.8L308.7 295.7L312.0 292.9L315.3 292.4L318.5 293.3L322.0 293.9L325.9 293.9L329.9 293.6L334.0 293.0L338.0 291.6L342.0 289.8L346.0 289.1L350.4 290.5L354.9 293.1L358.0 294.9" stroke="#ff00ff" stroke-width="1.8"/>
<path d="M230.0 285.6L232.6 285.5L236.3 285.3L240.0 285.3L243.1 285.6L246.3 286.0L250.0 286.3L254.7 286.2L260.0 286.2L265.0 287.2L269.5 290.1L273.8 294.1L278.0 298.3L282.1 303.3L286.0 308.4L290.0 311.0L294.1 309.4L298.1 305.4L302.0 301.2L305.5 297.4L308.7 293.4L312.0 290.3L315.3 288.2L318.5 286.9L322.0 286.2L325.9 286.2L329.9 286.7L334.0 286.8L338.0 285.8L342.0 284.5L346.0 283.7L350.4 283.9L354.9 284.7L358.0 285.3" stroke="#ff00ff" stroke-width="1.8"/>
<path d="M230.0 302.3L232.6 301.4L236.3 300.3L240.0 299.9L243.1 300.4L246.3 301.7L250.0 303.0L254.7 304.6L260.0 306.2L265.0 307.5L269.5 307.8L273.8 307.6L278.0 308.7L282.1 312.8L286.0 318.1L290.0 320.7L294.1 318.6L298.1 313.8L302.0 309.1L305.5 304.8L308.7 300.5L312.0 297.7L315.3 297.6L318.5 299.0L322.0 300.4L325.9 301.1L329.9 301.7L334.0 302.5L338.0 303.6L342.0 304.8L346.0 305.6L350.4 305.6L354.9 305.3L358.0 305.0" stroke="#ff00ff" stroke-width="1.8"/>
<path d="M230.0 276.0L232.6 276.8L236.3 277.8L240.0 278.6L243.1 278.8L246.3 278.8L250.0 278.8L254.7 278.4L260.0 278.1L265.0 279.5L269.5 283.7L273.8 289.5L278.0 295.0L282.1 300.3L286.0 305.2L290.0 307.5L294.1 305.4L298.1 300.6L302.0 295.9L305.5 292.1L308.7 288.4L312.0 285.1L315.3 282.3L318.5 279.9L322.0 278.1L325.9 277.0L329.9 276.5L334.0 276.6L338.0 277.7L342.0 279.5L346.0 280.6L350.4 280.5L354.9 279.8L358.0 279.3" stroke="#ff00ff" stroke-width="1.8"/>
<path d="M230.0 304.4L232.6 303.2L236.3 301.7L240.0 300.9L243.1 301.5L246.3 302.8L250.0 303.4L254.7 302.4L260.0 300.7L265.0 300.2L269.5 301.7L273.8 304.3L278.0 307.6L282.1 312.6L286.0 318.3L290.0 321.0L294.1 318.4L298.1 312.8L302.0 307.7L305.5 303.6L308.7 299.9L312.0 297.9L315.3 298.6L318.5 300.8L322.0 302.5L325.9 302.5L329.9 301.9L334.0 301.7L338.0 302.9L342.0 304.5L346.0 305.1L350.4 303.7L354.9 301.3L358.0 299.5" stroke="#ff00ff" stroke-width="1.8"/>
<path d="M230.0 296.4L232.6 296.7L236.3 297.1L240.0 297.1L243.1 296.4L246.3 295.3L250.0 295.2L254.7 296.8L260.0 299.2L265.0 301.3L269.5 302.1L273.8 302.4L278.0 303.9L282.1 308.5L286.0 314.2L290.0 317.3L294.1 315.6L298.1 311.4L302.0 307.0L305.5 302.9L308.7 298.7L312.0 295.8L315.3 295.2L318.5 295.9L322.0 296.3L325.9 295.5L329.9 294.4L334.0 293.6L338.0 293.6L342.0 293.9L346.0 294.7L350.4 296.2L354.9 298.1L358.0 299.5" stroke="#ff00ff" stroke-width="1.8"/>
<path d="M230.0 284.6L232.6 285.9L236.3 287.6L240.0 288.5L243.1 287.9L246.3 286.5L250.0 285.7L254.7 285.5L260.0 285.8L265.0 287.4L269.5 291.2L273.8 296.2L278.0 300.9L282.1 305.4L286.0 309.6L290.0 311.5L294.1 310.0L298.1 306.3L302.0 302.2L305.5 297.9L308.7 293.2L312.0 289.5L315.3 287.5L318.5 286.6L322.0 286.1L325.9 285.8L329.9 285.9L334.0 286.3L338.0 286.9L342.0 287.8L346.0 288.5L350.4 289.1L354.9 289.5L358.0 289.9" stroke="#ff00ff" stroke-width="1.8"/>
<path d="M230.0 291.7L232.6 292.0L236.3 292.3L240.0 292.9L243.1 293.9L246.3 295.2L250.0 296.0L254.7 295.3L260.0 294.1L265.0 294.3L269.5 297.0L273.8 301.1L278.0 305.2L282.1 309.6L286.0 313.9L290.0 315.8L294.1 313.6L298.1 309.0L302.0 304.6L305.5 301.0L308.7 297.5L312.0 294.9L315.3 293.4L318.5 292.8L322.0 292.9L325.9 294.1L329.9 295.9L334.0 297.0L338.0 296.3L342.0 294.7L346.0 294.0L350.4 295.0L354.9 296.9L358.0 298.2" stroke="#ff00ff" stroke-width="1.8"/>
<path d="M230.0 305.9L232.6 304.1L236.3 301.7L240.0 300.1L243.1 299.8L246.3 300.3L250.0 301.3L254.7 302.7L260.0 304.4L265.0 305.9L269.5 306.2L273.8 306.2L278.0 307.4L282.1 311.8L286.0 317.4L290.0 320.3L294.1 318.0L298.1 312.9L302.0 308.2L305.5 304.8L308.7 301.7L312.0 299.6L315.3 298.7L318.5 298.9L322.0 299.5L325.9 300.7L329.9 302.4L334.0 303.6L338.0 304.0L342.0 303.9L346.0 303.8L350.4 303.8L354.9 303.8L358.0 303.8" stroke="#ff00ff" stroke-width="1.8"/>
<path d="M230.0 274.4L232.6 274.4L236.3 274.4L240.0 274.4L243.1 274.2L246.3 274.1L250.0 274.5L254.7 275.3L260.0 276.5L265.0 278.9L269.5 283.1L273.8 288.4L278.0 293.6L282.1 299.3L286.0 304.9L290.0 307.7L294.1 306.0L298.1 301.4L302.0 296.6L305.5 292.3L308.7 287.7L312.0 283.5L315.3 279.1L318.5 274.9L322.0 272.6L325.9 273.7L329.9 276.7L334.0 279.0L338.0 280.0L342.0 280.4L346.0 280.1L350.4 278.5L354.9 276.2L358.0 274.5" stroke="#ff00ff" stroke-width="1.8"/>
<path d="M230.0 274.8L232.6 276.0L236.3 277.5L240.0 278.3L243.1 277.5L246.3 275.9L250.0 274.9L254.7 274.8L260.0 275.3L265.0 277.6L269.5 282.9L273.8 290.0L278.0 296.3L282.1 301.2L286.0 305.4L290.0 307.2L294.1 305.5L298.1 301.6L302.0 297.4L305.5 293.7L308.7 289.8L312.0 286.0L315.3 282.2L318.5 278.6L322.0 276.1L325.9 275.6L329.9 276.3L334.0 276.7L338.0 276.0L342.0 275.0L346.0 274.9L350.4 276.4L354.9 278.7L358.0 280.4" stroke="#ff00ff" stroke-width="1.8"/>
<path d="M230.0 281.2L232.6 280.1L236.3 278.7L240.0 277.9L243.1 278.4L246.3 279.7L250.0 281.0L254.7 281.8L260.0 282.7L265.0 284.6L269.5 288.2L273.8 292.9L278.0 297.5L282.1 302.4L286.0 307.3L290.0 309.5L294.1 307.2L298.1 302.2L302.0 297.3L305.5 293.5L308.7 289.8L312.0 286.9L315.3 285.3L318.5 284.5L322.0 283.7L325.9 282.6L329.9 281.6L334.0 280.9L338.0 280.8L342.0 281.0L346.0 281.3L350.4 281.4L354.9 281.5L358.0 281.6" stroke="#ff00ff" stroke-width="1.8"/>
<path d="M230.0 306.2L232.6 305.1L236.3 303.5L240.0 302.4L243.1 302.1L246.3 302.4L250.0 303.2L254.7 304.8L260.0 307.0L265.0 308.6L269.5 308.7L273.8 308.4L278.0 309.1L282.1 312.8L286.0 317.7L290.0 320.1L294.1 317.9L298.1 313.2L302.0 308.7L305.5 304.9L308.7 301.3L312.0 299.3L315.3 300.0L318.5 302.3L322.0 304.1L325.9 304.8L329.9 305.1L334.0 305.0L338.0 304.3L342.0 303.1L346.0 302.6L350.4 303.4L354.9 304.8L358.0 305.9" stroke="#ff00ff" stroke-width="1.8"/>
<path d="M230.0 286.1L232.6 287.6L236.3 289.5L240.0 290.7L243.1 290.1L246.3 288.6L250.0 287.6L254.7 287.4L260.0 287.7L265.0 289.0L269.5 291.8L273.8 295.6L278.0 299.8L282.1 305.2L286.0 310.9L290.0 313.7L294.1 311.5L298.1 306.4L302.0 301.4L305.5 297.1L308.7 292.9L312.0 289.9L315.3 288.4L318.5 288.1L322.0 288.2L325.9 288.9L329.9 290.2L334.0 291.1L338.0 291.8L342.0 292.2L346.0 292.0L350.4 290.7L354.9 288.8L358.0 287.5" stroke="#ff00ff" stroke-width="1.8"/>
<path d="M230.0 284.5L232.6 284.9L236.3 285.3L240.0 285.5L243.1 284.8L246.3 283.9L250.0 284.0L254.7 285.8L260.0 288.6L265.0 291.6L269.5 294.3L273.8 297.3L278.0 300.6L282.1 305.5L286.0 310.7L290.0 313.2L294.1 310.8L298.1 305.6L302.0 300.8L305.5 297.2L308.7 294.1L312.0 291.7L315.3 290.5L318.5 290.1L322.0 289.8L325.9 289.2L329.9 288.8L334.0 288.7L338.0 289.4L342.0 290.5L346.0 290.9L350.4 290.1L354.9 288.7L358.0 287.6" stroke="#ff00ff" stroke-width="1.8"/>
<path d="M230.0 288.5L232.6 289.0L236.3 289.7L240.0 290.7L243.1 292.3L246.3 294.2L250.0 295.3L254.7 294.5L260.0 292.9L265.0 292.6L269.5 294.6L273.8 297.9L278.0 301.7L282.1 306.7L286.0 312.1L290.0 314.7L294.1 312.5L298.1 307.5L302.0 302.8L305.5 299.2L308.7 295.9L312.0 293.2L315.3 291.2L318.5 289.7L322.0 289.1L325.9 290.1L329.9 292.0L334.0 293.1L338.0 292.2L342.0 290.4L346.0 289.5L350.4 290.2L354.9 291.7L358.0 292.9" stroke="#ff00ff" stroke-width="1.8"/>
<path d="M230.0 287.3L232.6 288.0L236.3 289.0L240.0 289.5L243.1 289.1L246.3 288.3L250.0 288.3L254.7 289.7L260.0 291.8L265.0 294.3L269.5 296.7L273.8 299.4L278.0 302.4L282.1 306.7L286.0 311.2L290.0 313.3L294.1 311.4L298.1 307.1L302.0 302.7L305.5 298.5L308.7 294.3L312.0 291.3L315.3 290.3L318.5 290.5L322.0 290.6L325.9 289.8L329.9 288.9L334.0 288.6L338.0 289.6L342.0 291.1L346.0 292.2L350.4 292.2L354.9 291.8L358.0 291.4" stroke="#ff00ff" stroke-width="1.8"/>
<path d="M230.0 290.0L232.6 288.3L236.3 286.1L240.0 284.6L243.1 284.6L246.3 285.4L250.0 286.2L254.7 286.7L260.0 287.3L265.0 288.9L269.5 292.1L273.8 296.3L278.0 300.5L282.1 305.3L286.0 310.2L290.0 312.5L294.1 310.8L298.1 306.6L302.0 302.2L305.5 297.9L308.7 293.4L312.0 290.1L315.3 289.0L318.5 289.0L322.0 289.2L325.9 289.3L329.9 289.5L334.0 289.4L338.0 288.6L342.0 287.4L346.0 287.0L350.4 288.0L354.9 289.7L358.0 290.9" stroke="#ff00ff" stroke-width="1.8"/>
<path d="M230.0 283.6L232.6 284.9L236.3 286.8L240.0 287.9L243.1 287.4L246.3 286.1L250.0 285.3L254.7 285.3L260.0 285.7L265.0 287.4L269.5 291.0L273.8 295.8L278.0 300.5L282.1 305.0L286.0 309.4L290.0 311.5L294.1 309.8L298.1 305.9L302.0 301.8L305.5 297.6L308.7 293.2L312.0 289.9L315.3 288.3L318.5 287.7L322.0 287.5L325.9 287.7L329.9 288.3L334.0 288.7L338.0 288.5L342.0 288.2L346.0 288.2L350.4 288.6L354.9 289.4L358.0 289.9" stroke="#ff00ff" stroke-width="1.8"/>
<path d="M230.0 274.0L232.6 275.2L236.3 276.8L240.0 278.0L243.1 278.6L246.3 278.8L250.0 278.5L254.7 276.9L260.0 274.9L265.0 275.4L269.5 280.8L273.8 288.7L278.0 295.7L282.1 301.2L286.0 305.7L290.0 307.6L294.1 305.3L298.1 300.4L302.0 295.6L305.5 292.0L308.7 288.5L312.0 285.4L315.3 282.8L318.5 280.5L322.0 278.4L325.9 276.1L329.9 274.1L334.0 273.2L338.0 274.4L342.0 276.7L346.0 278.1L350.4 277.3L354.9 275.5L358.0 274.1" stroke="#ff00ff" stroke-width="1.8"/>
<path d="M230.0 291.6L232.6 291.0L236.3 290.3L240.0 290.0L243.1 290.8L246.3 292.1L250.0 292.5L254.7 290.7L260.0 288.1L265.0 287.5L269.5 290.5L273.8 295.6L278.0 300.6L282.1 306.1L286.0 311.5L290.0 314.3L294.1 312.6L298.1 308.3L302.0 303.7L305.5 299.3L308.7 294.6L312.0 291.0L315.3 289.1L318.5 288.1L322.0 287.7L325.9 287.6L329.9 288.0L334.0 288.6L338.0 289.9L342.0 291.5L346.0 292.2L350.4 291.2L354.9 289.4L358.0 288.0" stroke="#ff00ff" stroke-width="1.8"/>
<path d="M230.0 272.9L232.1 274.6L235.1 277.3L238.0 281.9L240.5 291.2L242.9 302.5L245.0 308.5L246.4 304.6L247.6 295.3L249.2 287.5L251.8 283.3L254.9 280.5L257.9 279.4L260.9 279.5L263.8 281.4L266.7 286.3L269.6 295.6L272.6 307.9L275.5 321.0L278.5 334.9L281.5 349.5L284.2 361.5L286.7 370.1L288.9 376.0L291.0 378.3L293.1 376.4L295.1 370.9L297.4 361.5L300.1 347.2L303.1 329.0L306.1 310.8L309.1 292.4L312.0 273.9L314.9 259.1L317.7 249.2L320.3 243.0L323.0 240.8L325.9 244.6L328.9 252.5L331.3 259.1L332.7 261.6L333.5 263.0L335.0 266.4L337.8 275.0L341.2 285.7L345.0 292.5L349.6 291.9L354.5 287.4L358.0 283.9" stroke="#000" stroke-width="2.2"/>
<path d="M230.0 288.7L232.1 291.3L235.1 294.7L238.0 295.6L240.4 291.3L242.7 284.5L245.0 280.0L247.4 281.3L249.9 284.9L252.4 285.7L255.1 279.5L257.9 270.5L260.6 265.7L263.3 267.8L266.1 274.0L268.8 282.7L271.5 294.0L274.2 307.8L276.9 321.7L279.7 335.9L282.5 350.1L285.1 361.8L287.4 370.2L289.4 376.1L291.4 378.3L293.4 376.5L295.2 371.0L297.4 361.8L299.9 347.6L302.7 329.7L305.5 311.7L308.3 293.5L311.0 275.3L313.7 260.7L316.2 250.9L318.7 244.8L321.2 242.6L323.9 245.7L326.5 252.7L329.0 260.7L331.0 269.3L332.8 278.9L335.0 286.5L337.9 290.7L341.3 293.0L345.0 294.8L349.6 296.7L354.5 298.2L358.0 299.2" stroke="#000" stroke-width="2.2"/>
<path d="M230.0 278.9L232.1 285.4L235.1 294.2L238.0 300.2L240.6 301.0L243.1 298.9L245.0 296.2L245.7 293.6L245.9 290.4L246.9 287.6L249.3 285.4L252.4 283.6L255.6 282.8L258.5 282.5L261.4 283.2L264.3 286.9L267.2 295.1L270.1 306.3L273.0 318.3L276.0 331.4L278.9 345.2L281.7 356.5L284.1 364.5L286.3 370.1L288.4 372.2L290.5 370.4L292.5 365.2L294.8 356.5L297.5 343.0L300.5 325.9L303.5 308.8L306.4 291.5L309.3 274.1L312.2 260.2L314.9 250.9L317.6 245.1L320.2 243.0L323.0 246.1L325.9 253.0L328.5 260.2L330.7 266.7L332.6 273.4L335.0 279.9L338.0 286.8L341.3 293.4L345.0 298.1L349.6 299.3L354.5 298.5L358.0 297.8" stroke="#000" stroke-width="2.2"/>
<path d="M230.0 301.0L232.1 296.8L235.1 291.0L238.0 286.9L240.5 286.1L242.8 287.1L245.0 287.7L246.9 287.6L248.5 287.3L250.5 286.5L253.1 284.9L255.9 282.8L258.7 281.7L261.4 281.4L264.1 282.0L266.9 285.8L269.6 294.2L272.3 305.6L275.0 317.8L277.8 331.1L280.6 345.1L283.2 356.6L285.5 364.8L287.5 370.5L289.5 372.6L291.4 370.9L293.3 365.6L295.4 356.6L298.0 342.9L300.8 325.6L303.6 308.1L306.4 290.5L309.1 272.8L311.8 258.6L314.3 249.2L316.8 243.2L319.3 241.2L321.9 244.9L324.5 252.6L327.1 258.6L329.6 260.5L332.2 260.8L335.0 261.9L338.1 265.2L341.4 269.4L345.0 272.9L349.6 275.4L354.5 277.2L358.0 278.4" stroke="#000" stroke-width="2.2"/>
<path d="M230.0 296.5L232.1 293.4L235.1 289.4L238.0 288.1L240.3 292.8L242.6 300.3L245.0 304.4L247.9 301.6L250.9 295.5L253.8 290.4L256.5 287.8L259.0 286.2L261.6 285.6L264.2 285.3L266.7 286.0L269.3 289.6L271.9 297.8L274.5 309.0L277.1 320.9L279.7 333.9L282.4 347.6L284.8 358.8L287.0 366.8L288.9 372.4L290.8 374.4L292.6 372.7L294.4 367.5L296.4 358.8L298.9 345.4L301.5 328.5L304.2 311.4L306.8 294.2L309.4 276.9L311.9 263.1L314.4 253.9L316.7 248.1L319.1 246.1L321.5 249.8L323.9 257.3L326.5 263.1L329.2 263.7L332.0 262.5L335.0 264.4L338.1 273.4L341.4 285.5L345.0 293.0L349.6 291.5L354.5 285.4L358.0 280.6" stroke="#000" stroke-width="2.2"/>
<path d="M230.0 276.5L232.1 275.5L235.1 274.6L238.0 276.7L240.2 285.6L242.3 297.5L245.0 304.1L248.8 300.4L253.0 291.4L256.8 283.2L259.6 277.3L261.9 272.2L264.1 269.9L266.6 270.9L269.0 274.8L271.4 281.2L273.9 290.9L276.3 303.3L278.7 316.0L281.2 329.3L283.7 342.9L286.0 354.0L288.1 362.1L289.9 367.7L291.7 369.7L293.4 368.0L295.1 362.8L297.0 354.0L299.3 340.6L301.8 323.6L304.3 306.5L306.7 289.2L309.2 271.8L311.6 258.0L313.9 248.7L316.1 242.9L318.3 240.8L320.5 243.8L322.7 250.6L325.3 258.0L328.3 265.2L331.6 273.0L335.0 280.4L338.2 287.7L341.4 294.6L345.0 299.4L349.6 300.7L354.5 299.9L358.0 299.2" stroke="#000" stroke-width="2.2"/>
<path d="M230.0 277.3L232.1 282.2L235.1 288.7L238.0 293.1L240.5 293.3L242.9 291.3L245.0 289.2L246.4 288.1L247.6 287.0L249.2 284.8L251.8 280.0L254.8 274.1L257.9 271.1L260.8 272.2L263.7 276.1L266.6 282.7L269.5 292.7L272.4 305.5L275.3 318.5L278.2 332.2L281.2 346.2L284.0 357.7L286.4 365.9L288.6 371.7L290.7 373.8L292.7 372.0L294.7 366.7L297.0 357.7L299.7 343.8L302.7 326.3L305.7 308.7L308.6 291.0L311.5 273.1L314.4 258.9L317.1 249.3L319.7 243.3L322.4 241.3L325.3 244.1L328.2 250.9L330.7 258.9L332.2 267.9L333.3 278.1L335.0 287.1L337.8 295.1L341.2 302.0L345.0 304.6L349.6 299.9L354.5 290.9L358.0 284.3" stroke="#000" stroke-width="2.2"/>
<path d="M230.0 273.2L232.1 280.1L235.1 289.5L238.0 295.3L240.3 293.7L242.4 288.5L245.0 284.6L248.5 284.4L252.4 285.5L255.9 285.8L258.6 284.3L260.9 282.0L263.2 280.8L265.6 280.4L268.0 281.1L270.5 285.1L272.9 293.8L275.3 305.8L277.7 318.6L280.2 332.5L282.7 347.2L285.0 359.3L287.0 367.9L288.8 373.8L290.6 376.0L292.3 374.2L294.0 368.6L295.8 359.3L298.1 344.9L300.6 326.7L303.1 308.4L305.5 290.0L308.0 271.5L310.4 256.6L312.6 246.7L314.8 240.5L317.1 238.3L319.2 241.8L321.4 249.3L324.0 256.6L327.4 262.3L331.2 267.8L335.0 273.5L338.3 281.3L341.5 289.3L345.0 292.6L349.6 287.1L354.5 277.0L358.0 269.4" stroke="#000" stroke-width="2.2"/>
<path d="M230.0 278.1L232.1 284.9L235.1 293.9L238.0 298.8L240.3 294.9L242.5 286.8L245.0 281.2L248.1 281.8L251.6 284.8L254.8 286.1L257.5 283.0L260.0 278.2L262.4 275.5L265.0 276.1L267.5 278.9L270.1 284.5L272.6 293.9L275.2 306.1L277.7 318.8L280.3 332.3L282.9 346.2L285.4 357.6L287.5 365.8L289.4 371.5L291.3 373.6L293.1 371.8L294.8 366.5L296.8 357.6L299.2 343.9L301.8 326.6L304.5 309.2L307.0 291.6L309.6 273.9L312.1 259.7L314.5 250.3L316.8 244.3L319.2 242.3L321.5 245.7L323.9 252.9L326.4 259.7L329.1 264.0L332.0 267.8L335.0 273.4L338.1 283.8L341.4 296.0L345.0 302.8L349.6 299.4L354.5 290.7L358.0 284.1" stroke="#000" stroke-width="2.2"/>
<path d="M230.0 306.2L232.1 306.3L235.1 306.3L238.0 304.9L240.5 301.0L242.8 295.8L245.0 291.8L246.9 290.4L248.8 290.2L250.8 289.1L253.3 285.3L256.0 280.5L258.8 278.1L261.4 278.7L264.1 281.6L266.8 287.4L269.4 297.2L272.1 309.8L274.7 322.9L277.5 336.9L280.2 351.3L282.7 363.1L284.9 371.6L286.9 377.4L288.9 379.6L290.8 377.8L292.6 372.3L294.7 363.1L297.2 348.9L299.9 331.0L302.7 312.9L305.4 294.7L308.0 276.4L310.6 261.8L313.1 252.0L315.6 245.8L318.0 243.7L320.5 247.5L322.9 255.4L325.6 261.8L328.6 263.9L331.8 264.6L335.0 267.0L338.2 273.2L341.4 281.1L345.0 286.8L349.6 288.6L354.5 288.2L358.0 287.7" stroke="#000" stroke-width="2.2"/>
<path d="M230.0 285.5L232.1 290.1L235.1 296.4L238.0 301.0L240.4 302.9L242.7 303.0L245.0 301.4L247.2 296.9L249.4 290.7L251.8 285.1L254.4 280.4L257.1 276.3L259.9 274.5L262.5 275.1L265.2 277.9L267.9 283.5L270.6 292.8L273.3 304.9L276.0 317.5L278.8 330.9L281.5 344.7L284.1 356.0L286.3 364.2L288.3 369.8L290.3 371.9L292.2 370.2L294.1 364.9L296.2 356.0L298.7 342.4L301.5 325.2L304.2 307.9L306.9 290.5L309.7 272.9L312.3 258.8L314.8 249.4L317.3 243.5L319.8 241.5L322.3 245.0L324.9 252.4L327.4 258.8L329.9 262.3L332.3 264.8L335.0 267.7L338.0 271.6L341.4 275.9L345.0 280.4L349.6 285.5L354.5 290.9L358.0 294.6" stroke="#000" stroke-width="2.2"/>
<path d="M230.0 299.5L232.1 289.8L235.1 277.0L238.0 271.1L240.4 280.1L242.7 296.1L245.0 305.5L247.5 301.6L250.1 291.1L252.7 281.2L255.1 273.0L257.6 265.3L260.1 261.7L262.5 263.7L265.0 269.8L267.5 278.3L270.0 289.4L272.4 302.9L274.9 316.4L277.4 330.3L280.0 344.2L282.3 355.5L284.4 363.8L286.2 369.5L288.0 371.7L289.8 369.9L291.5 364.5L293.4 355.5L295.7 341.7L298.3 324.2L300.8 306.7L303.3 288.9L305.8 271.1L308.2 256.8L310.6 247.2L312.8 241.3L315.1 239.2L317.2 242.2L319.3 249.1L322.1 256.8L326.1 265.5L330.7 275.0L335.0 281.8L338.4 283.3L341.6 282.0L345.0 282.4L349.6 287.1L354.5 293.5L358.0 298.1" stroke="#000" stroke-width="2.2"/>
<path d="M230.0 282.9L232.1 282.8L235.1 282.6L238.0 281.9L240.4 279.6L242.8 276.8L245.0 275.6L247.0 277.9L248.9 281.9L251.0 284.1L253.5 282.2L256.3 278.5L259.1 276.3L261.8 276.5L264.5 278.2L267.2 283.0L269.9 291.9L272.6 303.8L275.2 316.3L278.0 329.7L280.8 343.7L283.3 355.2L285.6 363.5L287.6 369.2L289.6 371.3L291.5 369.5L293.4 364.2L295.5 355.2L298.0 341.5L300.8 324.1L303.5 306.5L306.3 288.9L309.0 271.1L311.6 256.9L314.2 247.3L316.6 241.4L319.1 239.3L321.6 242.6L324.2 249.7L326.8 256.9L329.4 263.2L332.1 269.5L335.0 273.9L338.1 275.1L341.4 274.4L345.0 274.0L349.6 275.0L354.5 276.2L358.0 277.1" stroke="#000" stroke-width="2.2"/>
<path d="M230.0 272.0L232.1 271.4L235.1 271.0L238.0 274.2L240.5 285.1L243.0 299.5L245.0 307.7L246.3 304.0L247.1 294.0L248.6 285.4L251.0 280.2L254.1 276.4L257.1 274.7L259.9 275.4L262.7 278.2L265.5 283.8L268.4 293.2L271.2 305.4L274.0 318.0L276.9 331.4L279.8 345.4L282.5 356.7L284.9 364.9L287.0 370.6L289.1 372.7L291.1 370.9L293.0 365.6L295.2 356.7L297.9 343.0L300.8 325.8L303.7 308.4L306.6 290.8L309.4 273.1L312.2 259.0L314.9 249.5L317.4 243.6L320.1 241.6L322.8 245.3L325.5 252.9L328.1 259.0L330.4 260.5L332.5 260.5L335.0 263.8L338.0 274.4L341.3 288.3L345.0 297.3L349.6 296.8L354.5 291.4L358.0 287.1" stroke="#000" stroke-width="2.2"/>
<path d="M322.0 246.0L324.1 248.3L327.2 251.4L330.0 254.0L332.1 255.6L334.0 256.6L336.0 257.0L338.3 256.5L340.6 255.3L343.0 254.5L345.3 254.2L347.7 254.2L350.0 255.0L352.8 257.1L355.6 260.1L357.0 263.0L356.3 265.4L354.2 267.7L352.0 270.0L349.9 272.6L347.6 275.2L346.0 277.0" stroke="#000" stroke-width="1.6"/>
</g>
<path d="M234.3 339.4 L234.3 376 L246.8 376" fill="none" stroke="#000" stroke-width="2"/>
</g>
<g id="p-b">
<text x="411" y="22.8" font-weight="bold" class="b" font-size="30">b</text>
<line x1="462" y1="34" x2="648" y2="34" stroke="#00aeef" stroke-width="2"/>
<rect x="509.2" y="21.2" width="94.6" height="26.5" fill="#00aeef"/>
<path d="M510.7 73.1h3v8.7h-3zM520.1 73.1h3v8.7h-3zM534.2 73.1h3v8.7h-3zM566.4 73.1h3v8.7h-3zM646.6 73.1h3v8.7h-3zM509.5 82.8h3v8.7h-3zM514.4 82.8h3v8.7h-3zM522.5 82.8h5v8.7h-5zM529.7 82.8h4.7v8.7h-4.7zM510.7 92.5h3v8.7h-3zM520.1 92.5h3v8.7h-3zM588.1 92.5h3v8.7h-3zM514.4 102.2h3v8.7h-3zM525.9 102.2h3v8.7h-3zM500.2 111.9h3v8.7h-3zM503.8 111.9h3v8.7h-3zM535 111.9h3v8.7h-3zM510.6 121.6h6.4v8.7h-6.4zM520.1 121.6h3v8.7h-3zM574.8 121.6h3v8.7h-3zM520.1 131.3h3v8.7h-3zM523.9 131.3h3v8.7h-3zM511.6 141h3v8.7h-3zM522.2 141h4.8v8.7h-4.8zM460.5 150.7h3v8.7h-3zM511.6 150.7h3v8.7h-3zM521.3 150.7h5.7v8.7h-5.7zM510.7 160.4h3v8.7h-3zM527.6 160.4h3v8.7h-3zM510.7 170.1h3v8.7h-3zM519.3 170.1h6.7v8.7h-6.7zM462.3 179.8h3v8.7h-3zM509.5 179.8h3v8.7h-3zM513.3 179.8h3v8.7h-3zM520.3 179.8h5.7v8.7h-5.7zM510.7 189.5h3v8.7h-3zM523.9 189.5h3v8.7h-3zM564.4 189.5h3v8.7h-3zM598.4 189.5h3v8.7h-3zM510.7 199.2h3v8.7h-3zM515.3 199.2h3v8.7h-3zM521.9 199.2h3v8.7h-3zM639 199.2h3v8.7h-3zM510.7 208.9h3v8.7h-3zM542.8 208.9h3v8.7h-3zM597.5 208.9h3v8.7h-3zM509.5 218.6h3v8.7h-3zM514.4 218.6h3v8.7h-3zM524.2 218.6h5.6v8.7h-5.6zM479.6 228.3h3v8.7h-3zM509.5 228.3h3v8.7h-3zM514.4 228.3h3v8.7h-3zM533.5 228.3h3v8.7h-3zM510.6 238h6.9v8.7h-6.9zM521 238h6v8.7h-6zM509.5 247.7h3v8.7h-3zM514.4 247.7h3v8.7h-3zM510.7 257.4h3v8.7h-3zM523 257.4h3v8.7h-3zM510.7 267.1h3v8.7h-3zM523.3 267.1h5.7v8.7h-5.7zM557.9 267.1h3v8.7h-3zM510.7 276.8h3v8.7h-3zM524 276.8h6v8.7h-6zM509.5 286.5h3v8.7h-3zM517.1 286.5h3v8.7h-3zM521 286.5h3v8.7h-3zM598.4 286.5h3v8.7h-3zM510.7 296.2h3v8.7h-3zM521.9 296.2h3v8.7h-3zM526.8 296.2h3v8.7h-3zM510.7 305.9h3v8.7h-3zM525.9 305.9h3v8.7h-3zM510.7 315.6h3v8.7h-3zM525.9 315.6h3v8.7h-3zM600.4 315.6h3v8.7h-3zM510.7 325.3h3v8.7h-3zM515.3 325.3h3v8.7h-3zM519 325.3h3v8.7h-3zM577.6 325.3h3v8.7h-3zM511.6 335h3v8.7h-3zM521 335h3v8.7h-3zM525 335h3v8.7h-3zM582.4 335h3v8.7h-3zM511.6 344.7h3v8.7h-3zM525 344.7h3v8.7h-3zM605 344.7h3v8.7h-3zM623.9 344.7h3v8.7h-3zM509.5 354.4h3v8.7h-3zM514.4 354.4h3v8.7h-3zM523.9 354.4h3v8.7h-3z" fill="#000"/>
<line x1="509.1" y1="385.6" x2="603.9" y2="385.6" stroke="#000" stroke-width="2.4"/>
<text x="522.2" y="423" font-size="26.9">100 ms</text>
</g>
<g id="p-c">
<text x="670.5" y="22.8" font-weight="bold" class="b" font-size="30">c</text>
<text x="792" y="53.3" text-anchor="middle">Reafferent</text>
<text x="973.3" y="53.3" text-anchor="middle">Non-reafferent</text>
<line x1="714.2" y1="90" x2="864.7" y2="90" stroke="#222" stroke-width="2.3"/>
<rect x="752.3" y="74.7" width="14.5" height="30.9" fill="#222" rx="0.8"/>
<line x1="909" y1="90" x2="1059.7" y2="90" stroke="#222" stroke-width="2.3"/>
<rect x="947" y="74.7" width="14.5" height="30.9" fill="#222" rx="0.8"/>
<text x="841.5" y="234" font-size="27.3">N = 5</text>
<text x="841.2" y="267.2" font-size="26.9">n = 71</text>
<text x="689.6" y="257.2" font-size="27">10</text>
<text x="689.5" y="290" font-size="27.2">sp/s</text>
<g style="mix-blend-mode:multiply">
<path d="M717.73 344.81 L718.98 341.37 L720.78 336.67 L722.69 333.35 L724.6 332.92 L726.63 333.87 L728.65 334.47 L730.71 333.9 L732.77 332.97 L734.61 332.31 L736.08 331.87 L737.33 331.7 L738.58 332.57 L739.83 335.55 L741.08 339.56 L742.55 342.12 L744.39 341.88 L746.45 340.19 L748.51 338.57 L750.53 337.81 L752.55 337.11 L754.46 335.67 L756.23 333.23 L757.88 330.04 L759.43 325.97 L760.86 321.69 L762.19 316.53 L763.4 308.32 L764.47 296.39 L765.42 281.42 L766.38 263.26 L767.39 239.47 L768.41 212.48 L769.36 189.52 L770.24 173.06 L771.06 160.61 L771.74 151.9 L772.24 147.93 L772.61 147.68 L772.93 147.87 L773.16 146.9 L773.34 146.36 L773.73 147.74 L774.44 151.47 L775.35 157.13 L776.31 164.88 L777.23 174.98 L778.2 187.18 L779.29 200.84 L780.54 216.67 L781.9 233.96 L783.26 250.03 L784.58 264.61 L785.9 277.97 L787.23 288.18 L788.55 293.56 L789.88 295.8 L791.2 298.06 L792.52 301.23 L793.85 304.44 L795.17 308.17 L796.49 313.19 L797.82 318.74 L799.14 323 L800.47 325.2 L801.79 326.12 L803.11 326.17 L804.44 324.71 L805.76 322.4 L807.08 321.62 L808.41 323.86 L809.73 327.64 L811.06 330.95 L812.31 332.94 L813.56 334.45 L815.03 336.08 L816.94 338.35 L819.07 340.72 L820.98 342.22 L822.46 342.1 L823.71 341.09 L824.96 340.41 L826.28 340.62 L827.6 341.15 L828.93 341.47 L830.25 341.82 L831.58 341.97 L832.9 340.69 L834.22 336.32 L835.55 330.53 L836.87 327.09 L838.19 328.34 L839.52 331.93 L840.84 334.62 L842.09 334.92 L843.34 334.33 L844.81 334.05 L846.65 334.58 L848.71 335.44 L850.77 336.38 L852.76 337.52 L854.74 338.74 L856.73 339.48 L858.71 339.29 L860.7 338.62 L862.68 338.27 L864.77 338.53 L866.85 339.12 L868.64 340.04 L870.08 341.58 L871.24 343.44 L872.02 344.77 L872.02 371.77 L871.24 370.7 L870.08 369.21 L868.64 367.95 L866.85 367.32 L864.77 366.93 L862.68 366.2 L860.7 364.74 L858.71 362.94 L856.73 361.47 L854.74 360.33 L852.76 359.51 L850.77 359.7 L848.71 362.04 L846.65 365.39 L844.81 366.97 L843.34 365.03 L842.09 361.32 L840.84 358.27 L839.52 356.4 L838.19 355.19 L836.87 355.48 L835.55 358.21 L834.22 362.43 L832.9 366.14 L831.58 368.76 L830.25 370.88 L828.93 372.19 L827.6 372.55 L826.28 372.12 L824.96 371.07 L823.71 368.83 L822.46 365.97 L820.98 364.43 L819.07 365.78 L816.94 368.43 L815.03 369.53 L813.56 367.63 L812.31 364.17 L811.06 360.6 L809.73 357.07 L808.41 353.43 L807.08 350.76 L805.76 349.77 L804.44 349.74 L803.11 349.63 L801.79 349.25 L800.47 348.79 L799.14 347.68 L797.82 345.47 L796.49 342.61 L795.17 339.84 L793.85 337.85 L792.52 335.94 L791.2 332.76 L789.88 328.05 L788.55 322.07 L787.23 314.23 L785.9 304.11 L784.58 292.13 L783.26 278.98 L781.9 263.63 L780.54 247.11 L779.29 233.17 L778.2 223.38 L777.23 216.17 L776.31 210.65 L775.39 206.72 L774.53 204.48 L773.73 203.24 L773.03 202.24 L772.41 202.23 L771.74 204.78 L771 210 L770.21 217.79 L769.36 229.42 L768.41 246.98 L767.39 268.38 L766.38 288.7 L765.42 306.96 L764.47 324.13 L763.4 338.25 L762.19 348.41 L760.86 355.53 L759.43 360.36 L757.88 362.35 L756.23 362.05 L754.46 361.95 L752.55 363.06 L750.53 364.36 L748.51 365.32 L746.45 365.75 L744.39 365.84 L742.55 365.63 L741.08 365.14 L739.83 364.35 L738.58 363.23 L737.33 361.26 L736.08 358.97 L734.61 357.84 L732.77 358.89 L730.71 361.11 L728.65 362.89 L726.63 363.3 L724.6 363.29 L722.69 364.09 L720.78 366.71 L718.98 370.15 L717.73 372.64Z" fill="#e3e3e3" fill-opacity="1"/>
<path d="M717.73 325.81 L718.5 323.72 L719.6 321.02 L720.71 320.22 L721.66 322.77 L722.62 327.23 L723.69 331.71 L724.9 335.71 L726.22 339.73 L727.66 343.38 L729.27 346.56 L731 349.38 L732.62 351.78 L734.06 353.87 L735.38 355.55 L736.59 356.47 L737.62 356.45 L738.54 355.67 L739.57 354.4 L740.78 352.21 L742.11 349.54 L743.54 347.9 L745.12 348.48 L746.82 350.09 L748.51 350.76 L750.16 349.81 L751.82 347.91 L753.47 345.07 L755.16 341.65 L756.85 337.29 L758.44 330.94 L759.87 321.4 L761.19 309.86 L762.41 298.87 L763.47 289.77 L764.43 281.21 L765.39 271.71 L766.39 259.85 L767.4 247.05 L768.36 236.16 L769.28 227.84 L770.14 221.44 L770.95 217.83 L771.64 218.08 L772.26 221.13 L772.93 224.61 L773.67 227.56 L774.46 230.95 L775.31 235.34 L776.26 241.2 L777.28 248.05 L778.29 255.07 L779.25 261.99 L780.2 269.07 L781.27 276.27 L782.52 284.12 L783.88 292.09 L785.24 298.58 L786.57 302.85 L787.89 305.63 L789.21 307.57 L790.54 308.34 L791.86 308.26 L793.19 308.9 L794.51 311.14 L795.83 314.09 L797.16 316.64 L798.52 318.68 L799.88 320.31 L801.13 320.7 L802.19 318.82 L803.15 315.71 L804.11 313.63 L805.1 313.62 L806.09 314.65 L807.08 315.88 L808.08 316.65 L809.07 317.63 L810.06 320.02 L811.02 325.11 L811.98 331.62 L813.04 336.79 L814.22 339.54 L815.51 340.96 L817.01 341.64 L818.85 341.22 L820.91 340.07 L822.97 339.85 L824.96 341.84 L826.94 344.76 L828.93 346.45 L830.99 345.36 L833.05 343.04 L834.88 342.07 L836.36 343.75 L837.61 346.77 L838.86 349.78 L840.22 352.46 L841.58 355.11 L842.83 357.31 L843.86 359.12 L844.78 360.48 L845.81 360.72 L847.02 359.23 L848.34 356.63 L849.78 354.12 L851.32 352.32 L852.98 350.61 L854.74 348.36 L856.65 344.85 L858.68 340.8 L860.7 337.83 L862.76 336.7 L864.82 336.65 L866.66 336.92 L868.22 337.43 L869.57 338.28 L870.63 338.97 L871.33 339.34 L871.75 339.55 L872.02 339.69 L872.02 377.12 L871.75 374.61 L871.33 371.14 L870.63 368.43 L869.57 367.05 L868.22 366.42 L866.66 366.55 L864.82 367.67 L862.76 369.55 L860.7 371.43 L858.68 372.85 L856.65 374.28 L854.74 376.33 L852.98 379.62 L851.32 383.54 L849.78 386.82 L848.34 388.96 L847.02 390.46 L845.81 391.54 L844.78 392.59 L843.86 393.21 L842.83 392.42 L841.58 389.17 L840.22 384.5 L838.86 380.58 L837.61 378.03 L836.36 376.23 L834.88 375.39 L833.05 376.16 L830.99 377.91 L828.93 378.95 L826.94 378.48 L824.96 377.31 L822.97 376.23 L820.91 375.81 L818.85 375.48 L817.01 374.34 L815.51 371.75 L814.22 368.34 L813.04 365.05 L811.98 362.29 L811.02 359.64 L810.06 356.84 L809.07 353.2 L808.08 349.4 L807.08 347.27 L806.09 347.92 L805.1 350.24 L804.11 352.79 L803.15 355.98 L802.19 359.39 L801.13 360.32 L799.88 356.55 L798.52 350.3 L797.16 345.46 L795.83 343.84 L794.51 343.62 L793.19 343.27 L791.86 342.36 L790.54 341.31 L789.21 339.8 L787.89 338.2 L786.57 336.14 L785.24 332.23 L783.88 325.23 L782.52 316.38 L781.27 307.91 L780.2 300.75 L779.25 293.97 L778.29 287.01 L777.28 279.14 L776.26 271.09 L775.31 264.44 L774.46 259.62 L773.67 256.2 L772.93 254.45 L772.26 254.93 L771.64 257.09 L770.95 259.46 L770.14 260.5 L769.28 261.76 L768.36 266.54 L767.4 277.57 L766.39 292.11 L765.39 305.27 L764.43 314.74 L763.47 322.83 L762.41 331.46 L761.19 342.07 L759.87 353.22 L758.44 362.52 L756.85 368.8 L755.16 373.23 L753.47 376.81 L751.82 379.89 L750.16 382.13 L748.51 383.48 L746.82 383.52 L745.12 382.67 L743.54 382.23 L742.11 382.58 L740.78 383.34 L739.57 384.66 L738.54 387.19 L737.62 390.28 L736.59 392.08 L735.38 391.8 L734.06 390.24 L732.62 388 L731 385.35 L729.27 382.01 L727.66 377.85 L726.22 372.19 L724.9 365.7 L723.69 360.28 L722.62 356.32 L721.66 353.44 L720.71 352.36 L719.6 354.24 L718.5 357.92 L717.73 360.68Z" fill="#fce3e3" fill-opacity="1"/>
<path d="M921.26 340.29 L923.1 338.74 L925.71 336.72 L928.21 336.14 L930.27 338.28 L932.22 341.84 L934.17 344.81 L936.16 346.69 L938.14 347.97 L940.13 348.08 L942.11 346.16 L944.1 343.06 L946.08 340.73 L948.11 340.16 L950.13 340.36 L952.04 340.25 L953.77 340.23 L955.39 339.9 L957.01 337.05 L958.7 330.55 L960.39 321.53 L961.97 311.16 L963.37 300.73 L964.65 288.96 L965.94 273.11 L967.3 250.31 L968.66 223.43 L969.91 198.46 L971.02 176.24 L972.01 155.92 L972.89 140.9 L973.7 133.7 L974.4 131.8 L974.88 130.99 L974.94 129.76 L974.77 129.63 L974.88 130.99 L975.49 133.38 L976.36 137.27 L977.26 144.49 L978.05 156.66 L978.87 172.16 L979.84 187.93 L981.06 203.9 L982.44 220.14 L983.81 233.91 L985.06 243.84 L986.31 251.29 L987.78 257.6 L989.7 262.79 L991.83 266.85 L993.74 271 L995.21 275.85 L996.46 280.79 L997.71 285.28 L998.96 288.94 L1000.21 292.15 L1001.68 295.41 L1003.52 298.77 L1005.58 302.18 L1007.64 306.09 L1009.63 311.03 L1011.61 316.46 L1013.6 321.22 L1015.51 325.04 L1017.42 328.19 L1019.56 330.3 L1022.13 330.74 L1024.92 330.13 L1027.5 329.98 L1029.7 330.87 L1031.69 332.22 L1033.46 333.76 L1034.93 335.66 L1036.18 337.76 L1037.43 339.34 L1038.68 339.98 L1039.93 340.1 L1041.4 340.29 L1043.24 340.88 L1045.3 341.52 L1047.36 341.84 L1049.34 341.47 L1051.33 340.76 L1053.31 340.47 L1055.22 340.98 L1057.14 341.89 L1059.27 342.76 L1061.88 343.81 L1064.71 344.81 L1067.21 344.65 L1069.16 342.33 L1070.78 338.85 L1072.18 336.11 L1073.43 334.94 L1074.46 334.51 L1075.15 334.29 L1075.15 366.51 L1074.46 366.4 L1073.43 366.29 L1072.18 366.58 L1070.78 367.78 L1069.16 369.38 L1067.21 370.25 L1064.71 369.79 L1061.88 368.61 L1059.27 367.42 L1057.14 366.29 L1055.22 365.16 L1053.31 364.59 L1051.33 365 L1049.34 365.96 L1047.36 366.84 L1045.3 367.53 L1043.24 368.12 L1041.4 368.21 L1039.93 367.58 L1038.68 366.44 L1037.43 365.04 L1036.18 363.32 L1034.93 361.33 L1033.46 359.5 L1031.69 357.79 L1029.7 356.23 L1027.5 355.28 L1024.92 355.54 L1022.13 356.4 L1019.56 356.52 L1017.42 355.44 L1015.51 353.61 L1013.6 351.02 L1011.61 347.39 L1009.63 343.01 L1007.64 338.74 L1005.58 335.18 L1003.52 331.74 L1001.68 327.52 L1000.21 321.7 L998.96 315.11 L997.71 309.22 L996.46 304.79 L995.21 301.07 L993.74 297.34 L991.83 293.73 L989.7 290.12 L987.78 285.42 L986.31 279.55 L985.06 272.59 L983.81 263.69 L982.44 251.54 L981.06 237.46 L979.84 224.59 L978.87 213.62 L978.05 203.87 L977.26 196.43 L976.44 191.99 L975.63 189.88 L974.88 189.16 L974.22 188.73 L973.61 189.69 L972.89 194.52 L972.01 204.53 L971.02 218.4 L969.91 234.66 L968.66 254.21 L967.3 276.16 L965.94 296.35 L964.65 313.73 L963.37 329.35 L961.97 342.18 L960.39 351.57 L958.7 358.18 L957.01 362.88 L955.39 365.41 L953.77 366.04 L952.04 366.44 L950.13 367 L948.11 367.32 L946.08 367.88 L944.1 369.16 L942.11 370.68 L940.13 371.47 L938.14 370.9 L936.16 369.61 L934.17 368.53 L932.22 368.03 L930.27 367.74 L928.21 367.56 L925.71 367.47 L923.1 367.48 L921.26 367.49Z" fill="#e3e3e3" fill-opacity="1"/>
<path d="M921.26 335.86 L922.51 335.47 L924.32 334.89 L926.23 334.24 L928.14 333.21 L930.16 332.11 L932.18 331.89 L934.17 332.99 L936.16 334.98 L938.14 337.52 L940.13 341.03 L942.11 345.09 L944.1 348.1 L946.08 349.23 L948.07 349.31 L950.06 349.3 L952.08 349.92 L954.1 350.46 L956.01 349.66 L957.81 347.16 L959.51 343.34 L960.98 338.09 L962.08 332.33 L962.96 325.15 L963.96 313.71 L965.24 294.85 L966.64 271.72 L967.93 251.01 L969.01 234.46 L969.98 220.31 L970.91 209.99 L971.8 204.74 L972.66 203.31 L973.49 203.32 L974.27 203.58 L975.04 205.28 L975.87 209.63 L976.82 217.98 L977.83 228.97 L978.85 239.75 L979.8 249.31 L980.76 258.65 L981.83 267.94 L983.08 277.68 L984.44 287.36 L985.8 295.64 L987.05 302.28 L988.3 307.52 L989.77 310.78 L991.61 310.98 L993.67 309.19 L995.73 308.13 L997.71 309.01 L999.7 310.6 L1001.68 311.93 L1003.67 312.61 L1005.66 313.02 L1007.64 313.39 L1009.63 313.46 L1011.61 313.5 L1013.6 314.49 L1015.58 317.49 L1017.57 321.45 L1019.56 324.2 L1021.54 324.47 L1023.53 323.53 L1025.51 323.01 L1027.5 323.74 L1029.48 324.9 L1031.47 325.59 L1033.46 324.96 L1035.44 323.87 L1037.43 323.9 L1039.41 326.48 L1041.4 330.18 L1043.38 332.41 L1045.37 331.67 L1047.36 329.45 L1049.34 327.53 L1051.33 326.34 L1053.31 325.44 L1055.3 325.37 L1057.28 326.71 L1059.27 328.87 L1061.25 330.72 L1063.28 331.83 L1065.3 332.63 L1067.21 333.24 L1069.01 333.68 L1070.71 333.94 L1072.18 334.06 L1073.43 334.02 L1074.46 333.85 L1075.15 333.72 L1075.15 364.87 L1074.46 365.55 L1073.43 366.5 L1072.18 367.16 L1070.71 367.29 L1069.01 367.15 L1067.21 366.91 L1065.3 366.96 L1063.28 366.91 L1061.25 365.88 L1059.27 362.69 L1057.28 358.52 L1055.3 355.91 L1053.31 356.39 L1051.33 358.44 L1049.34 360.06 L1047.36 360.58 L1045.37 360.66 L1043.38 360.33 L1041.4 359.36 L1039.41 357.98 L1037.43 356.88 L1035.44 356.33 L1033.46 356.06 L1031.47 355.99 L1029.48 356.27 L1027.5 356.74 L1025.51 356.9 L1023.53 356.53 L1021.54 355.84 L1019.56 354.98 L1017.57 354.2 L1015.58 353.25 L1013.6 351.52 L1011.61 347.92 L1009.63 343.53 L1007.64 341.04 L1005.66 342.47 L1003.67 345.79 L1001.68 347.57 L999.7 345.55 L997.71 341.99 L995.73 340.18 L993.67 342.71 L991.61 346.98 L989.77 348.59 L988.3 345.64 L987.05 340.02 L985.8 333.02 L984.44 324.92 L983.08 315.44 L981.83 304.92 L980.76 292.81 L979.8 279.67 L978.85 267.5 L977.83 256.35 L976.82 246.18 L975.87 238.83 L975.04 235.36 L974.27 234.7 L973.49 235.53 L972.66 236.87 L971.8 239.7 L970.91 245.56 L969.98 254.96 L969.01 267.4 L967.93 282.92 L966.64 304.01 L965.24 328.19 L963.96 348.02 L962.96 360.41 L962.08 368.45 L960.98 374.04 L959.51 376.85 L957.81 377.2 L956.01 377.86 L954.1 380.22 L952.08 382.9 L950.06 384.53 L948.07 384.46 L946.08 383.35 L944.1 381.75 L942.11 379.9 L940.13 377.56 L938.14 374.59 L936.16 369.8 L934.17 364.38 L932.18 361.66 L930.16 364.24 L928.14 369.52 L926.23 372.99 L924.32 372.36 L922.51 369.91 L921.26 368.01Z" fill="#fce3e3" fill-opacity="1"/>
</g>
<line x1="713.8" y1="353.8" x2="871.6" y2="353.8" stroke="#444" stroke-width="1.6" stroke-dasharray="15.6 16.2"/>
<line x1="917.3" y1="353.8" x2="1028" y2="353.8" stroke="#444" stroke-width="1.6" stroke-dasharray="15.6 16.2" stroke-dashoffset="0.5"/>
<path d="M717.73 359.35 L718.39 358.17 L719.31 356.46 L720.4 354.54 L721.56 352.74 L722.69 351.41 L723.82 350.67 L725 350.31 L726.22 350.11 L727.44 349.89 L728.65 349.42 L729.87 348.54 L731.13 347.39 L732.37 346.22 L733.54 345.29 L734.61 344.85 L735.53 345.02 L736.34 345.6 L737.08 346.46 L737.82 347.46 L738.58 348.43 L739.34 349.56 L740.07 350.95 L740.82 352.33 L741.63 353.43 L742.55 353.99 L743.61 353.77 L744.79 352.97 L746.03 351.91 L747.28 350.94 L748.51 350.41 L749.71 350.55 L750.94 351.12 L752.15 351.78 L753.34 352.19 L754.46 352 L755.54 351.27 L756.57 350.23 L757.56 348.8 L758.51 346.9 L759.43 344.46 L760.3 341.69 L761.14 338.64 L761.93 334.99 L762.68 330.42 L763.4 324.6 L764.06 317.34 L764.66 308.86 L765.23 299.44 L765.8 289.36 L766.38 278.93 L766.98 267.36 L767.6 254.48 L768.21 241.42 L768.8 229.33 L769.36 219.36 L769.88 211.67 L770.37 205.5 L770.84 200.6 L771.3 196.7 L771.74 193.54 L772.15 191.36 L772.53 190.33 L772.91 190.09 L773.3 190.29 L773.73 190.56 L774.2 190.75 L774.7 191.07 L775.22 191.8 L775.76 193.2 L776.31 195.53 L776.86 198.74 L777.42 202.65 L778 207.35 L778.62 212.89 L779.29 219.36 L780.02 227.22 L780.8 236.43 L781.62 246.28 L782.45 256.05 L783.26 265.03 L784.05 273.46 L784.85 281.83 L785.64 289.76 L786.43 296.86 L787.23 302.76 L788.02 307.14 L788.82 310.27 L789.61 312.6 L790.41 314.58 L791.2 316.66 L791.99 318.73 L792.79 320.49 L793.58 322.11 L794.38 323.76 L795.17 325.59 L795.97 327.78 L796.76 330.2 L797.55 332.62 L798.35 334.81 L799.14 336.51 L799.94 337.68 L800.73 338.47 L801.53 338.97 L802.32 339.28 L803.11 339.49 L803.91 339.37 L804.7 338.86 L805.5 338.3 L806.29 338.06 L807.08 338.5 L807.88 339.85 L808.67 341.87 L809.47 344.22 L810.26 346.52 L811.06 348.43 L811.82 349.98 L812.55 351.43 L813.3 352.69 L814.11 353.7 L815.03 354.38 L816.12 354.54 L817.36 354.2 L818.65 353.69 L819.89 353.32 L820.98 353.39 L821.91 354.06 L822.72 355.11 L823.46 356.33 L824.19 357.48 L824.96 358.36 L825.75 359.04 L826.54 359.67 L827.34 360.13 L828.13 360.27 L828.93 359.94 L829.72 359.03 L830.52 357.62 L831.31 355.91 L832.1 354.1 L832.9 352.4 L833.69 350.61 L834.49 348.61 L835.28 346.66 L836.08 345.05 L836.87 344.06 L837.66 343.79 L838.46 344.07 L839.25 344.72 L840.05 345.56 L840.84 346.44 L841.6 347.56 L842.34 349.04 L843.08 350.56 L843.89 351.79 L844.81 352.4 L845.88 352.13 L847.05 351.19 L848.29 349.99 L849.55 348.94 L850.77 348.43 L851.96 348.56 L853.15 349.07 L854.34 349.81 L855.54 350.64 L856.73 351.41 L857.92 352.2 L859.11 353.11 L860.3 354.03 L861.49 354.82 L862.68 355.38 L863.92 355.6 L865.19 355.57 L866.44 355.42 L867.62 355.31 L868.64 355.38 L869.54 355.68 L870.34 356.12 L871.03 356.62 L871.6 357.06 L872.02 357.36" fill="none" stroke="#000" stroke-width="2" stroke-linejoin="round" stroke-linecap="round"/>
<path d="M717.73 342.47 L718.13 341.77 L718.71 340.69 L719.37 339.56 L720.06 338.72 L720.71 338.5 L721.29 338.93 L721.85 339.79 L722.42 341.02 L723.03 342.6 L723.69 344.46 L724.4 346.76 L725.15 349.54 L725.95 352.56 L726.78 355.58 L727.66 358.36 L728.6 361 L729.62 363.66 L730.66 366.2 L731.68 368.45 L732.62 370.27 L733.49 371.66 L734.33 372.74 L735.12 373.47 L735.88 373.85 L736.59 373.84 L737.24 373.33 L737.81 372.32 L738.36 371 L738.93 369.59 L739.57 368.28 L740.29 366.93 L741.04 365.4 L741.83 363.91 L742.67 362.68 L743.54 361.93 L744.47 361.91 L745.46 362.49 L746.47 363.26 L747.5 363.87 L748.51 363.92 L749.5 363.39 L750.49 362.54 L751.49 361.4 L752.48 360 L753.47 358.36 L754.48 356.63 L755.5 354.81 L756.52 352.66 L757.51 349.94 L758.44 346.44 L759.31 341.99 L760.14 336.75 L760.94 330.95 L761.69 324.84 L762.41 318.64 L763.07 312.24 L763.67 305.47 L764.24 298.53 L764.81 291.6 L765.39 284.88 L765.99 278.12 L766.6 271.19 L767.2 264.47 L767.79 258.32 L768.36 253.11 L768.92 248.92 L769.45 245.48 L769.97 242.71 L770.47 240.52 L770.95 238.82 L771.37 237.64 L771.76 237.04 L772.14 236.97 L772.52 237.38 L772.93 238.22 L773.37 239.46 L773.83 241.14 L774.3 243.29 L774.79 245.95 L775.31 249.14 L775.87 253.11 L776.46 257.84 L777.07 262.96 L777.69 268.13 L778.29 272.97 L778.87 277.53 L779.44 282.04 L780.01 286.46 L780.61 290.73 L781.27 294.81 L782 298.75 L782.79 302.58 L783.61 306.23 L784.43 309.62 L785.24 312.68 L786.04 315.44 L786.83 317.93 L787.63 320.14 L788.42 322.04 L789.21 323.61 L790.01 324.66 L790.8 325.23 L791.6 325.56 L792.39 325.93 L793.19 326.58 L793.98 327.57 L794.77 328.71 L795.57 329.94 L796.36 331.24 L797.16 332.54 L797.97 334.06 L798.79 335.82 L799.61 337.52 L800.4 338.85 L801.13 339.49 L801.79 339.23 L802.39 338.27 L802.96 336.94 L803.53 335.58 L804.11 334.53 L804.7 333.65 L805.3 332.72 L805.89 331.93 L806.49 331.48 L807.08 331.55 L807.68 332.22 L808.28 333.38 L808.87 334.88 L809.47 336.63 L810.06 338.5 L810.64 340.64 L811.21 343.15 L811.78 345.77 L812.38 348.27 L813.04 350.41 L813.74 352.2 L814.46 353.79 L815.23 355.18 L816.08 356.37 L817.01 357.36 L818.08 358.11 L819.25 358.61 L820.49 358.94 L821.75 359.16 L822.97 359.35 L824.16 359.49 L825.35 359.54 L826.54 359.52 L827.74 359.44 L828.93 359.35 L830.15 359.1 L831.41 358.69 L832.64 358.3 L833.82 358.13 L834.88 358.36 L835.81 359.05 L836.62 360.1 L837.36 361.38 L838.09 362.82 L838.86 364.31 L839.67 366.04 L840.49 368.05 L841.31 370.1 L842.1 371.92 L842.83 373.25 L843.47 374.07 L844.04 374.55 L844.59 374.73 L845.16 374.61 L845.81 374.24 L846.52 373.51 L847.28 372.41 L848.07 371.07 L848.9 369.65 L849.78 368.28 L850.69 366.97 L851.64 365.62 L852.64 364.23 L853.67 362.8 L854.74 361.33 L855.87 359.74 L857.05 358.01 L858.27 356.29 L859.49 354.7 L860.7 353.39 L861.92 352.32 L863.18 351.39 L864.42 350.66 L865.59 350.19 L866.66 350.02 L867.62 350.27 L868.51 350.9 L869.32 351.75 L870.03 352.63 L870.63 353.39 L871.09 354.06 L871.44 354.75 L871.69 355.41 L871.87 355.97 L872.02 356.37" fill="none" stroke="#e02020" stroke-width="2" stroke-linejoin="round" stroke-linecap="round"/>
<path d="M921.26 353.39 L922.22 353.16 L923.59 352.78 L925.17 352.41 L926.78 352.23 L928.21 352.4 L929.47 353.04 L930.67 354.05 L931.83 355.23 L932.99 356.4 L934.17 357.36 L935.36 358.18 L936.55 358.98 L937.74 359.67 L938.94 360.16 L940.13 360.34 L941.32 360.11 L942.51 359.53 L943.7 358.77 L944.89 357.99 L946.08 357.36 L947.29 356.95 L948.51 356.64 L949.73 356.34 L950.91 355.95 L952.04 355.38 L953.1 354.85 L954.1 354.42 L955.07 353.76 L956.03 352.53 L957.01 350.41 L958.01 347.47 L959.04 343.94 L960.06 339.69 L961.04 334.61 L961.97 328.57 L962.83 321.58 L963.63 313.72 L964.4 304.98 L965.16 295.37 L965.94 284.88 L966.75 272.76 L967.58 259.01 L968.4 244.76 L969.18 231.16 L969.91 219.36 L970.59 209.21 L971.22 199.94 L971.82 191.79 L972.37 184.95 L972.89 179.64 L973.35 176.24 L973.74 174.58 L974.1 174.14 L974.47 174.35 L974.88 174.68 L975.32 174.97 L975.79 175.6 L976.27 176.78 L976.76 178.71 L977.26 181.63 L977.74 185.66 L978.21 190.68 L978.7 196.45 L979.23 202.77 L979.84 209.43 L980.55 216.86 L981.33 225.22 L982.16 233.83 L983 242.03 L983.81 249.14 L984.58 255.12 L985.31 260.39 L986.05 265.06 L986.86 269.22 L987.78 272.97 L988.88 276.08 L990.12 278.5 L991.41 280.55 L992.64 282.57 L993.74 284.88 L994.66 287.54 L995.47 290.3 L996.22 293.13 L996.95 295.97 L997.71 298.78 L998.47 301.6 L999.21 304.44 L999.95 307.27 L1000.76 310.03 L1001.68 312.68 L1002.75 315.19 L1003.92 317.59 L1005.16 319.93 L1006.42 322.25 L1007.64 324.6 L1008.83 327.08 L1010.02 329.65 L1011.22 332.18 L1012.41 334.51 L1013.6 336.51 L1014.76 338.15 L1015.89 339.52 L1017.03 340.66 L1018.24 341.63 L1019.56 342.47 L1021.05 343.12 L1022.68 343.55 L1024.37 343.85 L1026 344.12 L1027.5 344.46 L1028.85 344.79 L1030.12 345.06 L1031.31 345.36 L1032.42 345.79 L1033.46 346.44 L1034.38 347.42 L1035.19 348.65 L1035.93 350 L1036.66 351.3 L1037.43 352.4 L1038.19 353.36 L1038.92 354.27 L1039.67 355.06 L1040.48 355.65 L1041.4 355.97 L1042.46 355.91 L1043.64 355.51 L1044.88 354.95 L1046.13 354.38 L1047.36 353.99 L1048.55 353.74 L1049.74 353.53 L1050.93 353.38 L1052.12 353.32 L1053.31 353.39 L1054.47 353.64 L1055.6 354.05 L1056.74 354.53 L1057.95 355 L1059.27 355.38 L1060.78 355.69 L1062.45 355.99 L1064.15 356.24 L1065.78 356.38 L1067.21 356.37 L1068.43 356.19 L1069.51 355.87 L1070.48 355.44 L1071.36 354.93 L1072.18 354.38 L1072.95 353.71 L1073.65 352.9 L1074.27 352.06 L1074.78 351.32 L1075.15 350.81" fill="none" stroke="#000" stroke-width="2" stroke-linejoin="round" stroke-linecap="round"/>
<path d="M921.26 349.42 L921.92 349.96 L922.84 350.81 L923.93 351.68 L925.09 352.3 L926.23 352.4 L927.36 351.59 L928.54 350.07 L929.75 348.39 L930.98 347.12 L932.18 346.84 L933.38 347.82 L934.57 349.69 L935.76 352.02 L936.95 354.39 L938.14 356.37 L939.33 358 L940.52 359.57 L941.72 361.02 L942.91 362.29 L944.1 363.32 L945.29 364.1 L946.48 364.66 L947.67 365.04 L948.86 365.24 L950.06 365.31 L951.26 365.21 L952.49 364.94 L953.7 364.52 L954.88 363.97 L956.01 363.32 L957.1 362.92 L958.17 362.74 L959.18 362.27 L960.13 360.98 L960.98 358.36 L961.68 354.46 L962.26 349.66 L962.79 343.82 L963.33 336.83 L963.96 328.57 L964.7 318.28 L965.52 306.03 L966.36 292.97 L967.18 280.25 L967.93 269 L968.59 259.01 L969.21 249.51 L969.79 240.83 L970.35 233.32 L970.91 227.3 L971.45 223.03 L971.98 220.28 L972.49 218.67 L972.99 217.83 L973.49 217.37 L973.97 217.16 L974.43 217.47 L974.88 218.47 L975.36 220.36 L975.87 223.33 L976.43 227.66 L977.02 233.24 L977.63 239.63 L978.24 246.39 L978.85 253.11 L979.43 260.01 L979.99 267.36 L980.56 274.85 L981.17 282.12 L981.83 288.86 L982.56 295.18 L983.34 301.31 L984.16 307.06 L984.99 312.24 L985.8 316.66 L986.56 320.28 L987.29 323.23 L988.04 325.57 L988.85 327.33 L989.77 328.57 L990.83 328.98 L992.01 328.54 L993.25 327.69 L994.5 326.89 L995.73 326.58 L996.92 326.94 L998.11 327.66 L999.3 328.49 L1000.49 329.21 L1001.68 329.56 L1002.88 329.34 L1004.07 328.7 L1005.26 327.97 L1006.45 327.48 L1007.64 327.58 L1008.83 328.44 L1010.02 329.86 L1011.22 331.53 L1012.41 333.19 L1013.6 334.53 L1014.79 335.59 L1015.98 336.57 L1017.17 337.41 L1018.36 338.07 L1019.56 338.5 L1020.75 338.52 L1021.94 338.17 L1023.13 337.71 L1024.32 337.4 L1025.51 337.51 L1026.7 338.18 L1027.9 339.25 L1029.09 340.48 L1030.28 341.64 L1031.47 342.47 L1032.66 342.88 L1033.85 343.01 L1035.04 343.04 L1036.24 343.14 L1037.43 343.46 L1038.62 344.15 L1039.81 345.08 L1041 346.06 L1042.19 346.91 L1043.38 347.43 L1044.58 347.6 L1045.77 347.54 L1046.96 347.29 L1048.15 346.91 L1049.34 346.44 L1050.53 345.69 L1051.72 344.64 L1052.92 343.56 L1054.11 342.74 L1055.3 342.47 L1056.49 342.92 L1057.68 343.91 L1058.87 345.16 L1060.06 346.43 L1061.25 347.43 L1062.46 348.2 L1063.69 348.89 L1064.9 349.5 L1066.08 350.01 L1067.21 350.41 L1068.3 350.65 L1069.36 350.75 L1070.38 350.76 L1071.33 350.76 L1072.18 350.81 L1072.95 350.93 L1073.65 351.06 L1074.27 351.2 L1074.78 351.32 L1075.15 351.41" fill="none" stroke="#e02020" stroke-width="2" stroke-linejoin="round" stroke-linecap="round"/>
<path d="M702.8 314.7 L702.8 401 L781 401" fill="none" stroke="#222" stroke-width="2.3"/>
<text x="697.8" y="434.8" font-size="26.9">100 ms</text>
</g>
<g id="p-d">
<text x="1092" y="22.8" font-weight="bold" class="b" font-size="30">d</text>
<path d="M1224.3 27 L1224.3 368.2 L1563.1 368.2" fill="none" stroke="#000" stroke-width="1.9" stroke-linecap="square"/>
<path d="M1280.77 368.2v-5M1337.23 368.2v-5M1393.7 368.2v-5M1450.17 368.2v-5M1506.63 368.2v-5M1563.1 368.2v-5M1224.3 311.33h5M1224.3 254.47h5M1224.3 197.6h5M1224.3 140.73h5M1224.3 83.87h5M1224.3 27h5" stroke="#000" stroke-width="1.52" fill="none"/>
<line x1="1224.3" y1="368.2" x2="1563.1" y2="27" stroke="#000" stroke-width="2.3"/>
<g fill="none" stroke="#808080" stroke-width="1.9">
<circle cx="1410.23" cy="46.78" r="3.2"/><circle cx="1459.66" cy="68" r="3.2"/><circle cx="1373.34" cy="77.65" r="3.2"/><circle cx="1544.06" cy="75.96" r="3.2"/><circle cx="1534.42" cy="87.29" r="3.2"/><circle cx="1464.97" cy="106.34" r="3.2"/><circle cx="1352.12" cy="133.83" r="3.2"/><circle cx="1382.26" cy="145.17" r="3.2"/><circle cx="1381.29" cy="157.95" r="3.2"/><circle cx="1407.1" cy="167.11" r="3.2"/><circle cx="1423.74" cy="176.03" r="3.2"/><circle cx="1440.13" cy="174.58" r="3.2"/><circle cx="1491.98" cy="172.9" r="3.2"/><circle cx="1491.01" cy="180.37" r="3.2"/><circle cx="1524.05" cy="178.44" r="3.2"/><circle cx="1530.32" cy="176.51" r="3.2"/><circle cx="1290.87" cy="211.24" r="3.2"/><circle cx="1345.12" cy="216.78" r="3.2"/><circle cx="1351.39" cy="223.54" r="3.2"/><circle cx="1351.88" cy="231.25" r="3.2"/><circle cx="1369.24" cy="225.46" r="3.2"/><circle cx="1441.34" cy="247.41" r="3.2"/><circle cx="1262.65" cy="256.57" r="3.2"/><circle cx="1315.71" cy="260.91" r="3.2"/><circle cx="1294.49" cy="265.73" r="3.2"/><circle cx="1286.53" cy="273.21" r="3.2"/><circle cx="1320.29" cy="273.69" r="3.2"/><circle cx="1350.67" cy="265.73" r="3.2"/><circle cx="1373.34" cy="265.73" r="3.2"/><circle cx="1427.59" cy="279.24" r="3.2"/><circle cx="1331.62" cy="288.16" r="3.2"/><circle cx="1368.51" cy="286.23" r="3.2"/><circle cx="1497.52" cy="285.03" r="3.2"/><circle cx="1269.41" cy="292.26" r="3.2"/><circle cx="1463.52" cy="298.29" r="3.2"/><circle cx="1477.99" cy="297.56" r="3.2"/><circle cx="1252.77" cy="311.07" r="3.2"/><circle cx="1291.35" cy="312.27" r="3.2"/><circle cx="1244.33" cy="315.89" r="3.2"/><circle cx="1243.61" cy="320.23" r="3.2"/><circle cx="1273.27" cy="314.69" r="3.2"/><circle cx="1276.16" cy="320.71" r="3.2"/><circle cx="1343.92" cy="316.13" r="3.2"/><circle cx="1487.88" cy="321.68" r="3.2"/><circle cx="1281.7" cy="332.29" r="3.2"/><circle cx="1293.28" cy="327.22" r="3.2"/><circle cx="1338.13" cy="327.22" r="3.2"/><circle cx="1382.26" cy="328.19" r="3.2"/><circle cx="1289.66" cy="334.46" r="3.2"/><circle cx="1366.59" cy="333.98" r="3.2"/><circle cx="1255.18" cy="327.47" r="3.2"/><circle cx="1249.87" cy="332.05" r="3.2"/><circle cx="1261.21" cy="329.88" r="3.2"/><circle cx="1241.43" cy="333.98" r="3.2"/><circle cx="1234.92" cy="336.39" r="3.2"/><circle cx="1242.4" cy="337.59" r="3.2"/><circle cx="1225.52" cy="338.08" r="3.2"/><circle cx="1235.89" cy="341.21" r="3.2"/><circle cx="1241.43" cy="342.42" r="3.2"/><circle cx="1262.41" cy="340" r="3.2"/><circle cx="1268.44" cy="344.83" r="3.2"/><circle cx="1256.39" cy="342.42" r="3.2"/><circle cx="1251.56" cy="346.03" r="3.2"/><circle cx="1247.95" cy="344.83" r="3.2"/><circle cx="1239.51" cy="347.24" r="3.2"/><circle cx="1234.2" cy="352.06" r="3.2"/><circle cx="1232.75" cy="353.27" r="3.2"/><circle cx="1249.15" cy="350.86" r="3.2"/><circle cx="1255.18" cy="348.44" r="3.2"/><circle cx="1263.14" cy="347.96" r="3.2"/><circle cx="1295.21" cy="345.79" r="3.2"/><circle cx="1354.05" cy="351.1" r="3.2"/><circle cx="1266.27" cy="355.68" r="3.2"/><circle cx="1237.09" cy="358.09" r="3.2"/><circle cx="1245.53" cy="359.3" r="3.2"/><circle cx="1227.45" cy="360.5" r="3.2"/><circle cx="1293.28" cy="358.81" r="3.2"/><circle cx="1324.87" cy="360.02" r="3.2"/><circle cx="1247.95" cy="362.19" r="3.2"/><circle cx="1250.36" cy="362.43" r="3.2"/><circle cx="1241.43" cy="362.91" r="3.2"/><circle cx="1261.69" cy="365.08" r="3.2"/><circle cx="1261.21" cy="364.12" r="3.2"/>
</g>
<circle cx="1281.7" cy="327.22" r="5.3" fill="#000"/>
<text x="1214.8" y="378" text-anchor="end" font-size="27">0</text>
<text x="1227.5" y="396.8" text-anchor="middle" font-size="27">0</text>
<text x="1214.8" y="264.27" text-anchor="end" font-size="27">10</text>
<text x="1333.93" y="396.8" text-anchor="middle" font-size="27">10</text>
<text x="1214.8" y="150.53" text-anchor="end" font-size="27">20</text>
<text x="1446.87" y="396.8" text-anchor="middle" font-size="27">20</text>
<text x="1214.8" y="36.8" text-anchor="end" font-size="27">30</text>
<text x="1559.8" y="396.8" text-anchor="middle" font-size="27">30</text>
<text x="1287.8" y="53.5" text-anchor="middle" font-size="27.2">n = 93</text>
<text x="1286.5" y="86.8" text-anchor="middle" font-size="27.1">p = 0.01</text>
<text text-anchor="middle" font-size="27.3" transform="translate(1137.6 212.3) rotate(-90)">Running spontaneous rate</text>
<text text-anchor="middle" font-size="27.3" transform="translate(1171.6 207.5) rotate(-90)">(sp/s)</text>
<text x="1399.6" y="431" text-anchor="middle">Resting spontaneous rate</text>
<text x="1403.3" y="463" text-anchor="middle">(sp/s)</text>
</g>
<g id="p-e">
<text x="1593" y="24" font-weight="bold" class="b" font-size="30">e</text>
<path d="M1765.65 240.17 L1770.23 239.92 L1776.76 239.54 L1783.24 238.94 L1788.89 238.09 L1794.48 237.03 L1800.34 235.77 L1806.68 234.27 L1813.28 232.57 L1819.89 230.88 L1826.4 229.3 L1832.92 227.71 L1839.43 226 L1845.86 224.19 L1852.28 222.24 L1858.98 219.89 L1866.04 217.08 L1873.37 213.87 L1880.97 210.11 L1888.93 205.77 L1897.16 200.88 L1905.4 195.46 L1913.09 189.48 L1920.78 182.97 L1929.83 175.91 L1941.14 168.13 L1953.81 159.8 L1966.48 151.48 L1978.7 143.33 L1990.91 135.19 L2003.13 127.05 L2015.28 118.97 L2027.43 110.9 L2039.78 102.61 L2053.86 92.99 L2068.13 83.14 L2078.13 76.23 L2078.13 241.14 L2068.58 240.95 L2054.76 240.71 L2039.78 240.65 L2024.27 240.94 L2007.59 241.41 L1990.91 241.88 L1974.62 242.21 L1958.34 242.55 L1942.05 243.1 L1924.85 244.04 L1907.66 245.2 L1893.18 246.27 L1882.87 247.12 L1875.27 247.89 L1868.75 248.72 L1863.14 249.54 L1858.62 250.42 L1854.09 251.65 L1849.21 253.36 L1844.32 255.42 L1839.43 257.76 L1834.64 260.38 L1829.84 263.28 L1824.77 266.31 L1819.25 269.48 L1813.46 272.78 L1807.67 276.08 L1801.88 279.34 L1796.09 282.6 L1790.57 285.85 L1785.34 289.22 L1780.38 292.59 L1775.91 295.63 L1771.78 298.38 L1768.15 300.8 L1765.65 302.47Z" fill="#cbcbcb"/>
<path d="M1753.4 25 L1753.4 367.8 L2096 367.8" fill="none" stroke="#000" stroke-width="2.2" stroke-linecap="square"/>
<path d="M1821.6 367.8v-5M1890.2 367.8v-5M1958.8 367.8v-5M2027.4 367.8v-5M2096 367.8v-5M1753.4 318.37h5M1753.4 269.5h5M1753.4 220.63h5M1753.4 171.76h5M1753.4 122.89h5M1753.4 74.02h5M1753.4 25.15h5" stroke="#000" stroke-width="1.76" fill="none"/>
<line x1="1765.65" y1="277.3" x2="2078.13" y2="136.82" stroke="#000" stroke-width="2.3"/>
<g fill="none" stroke="#000" stroke-width="4">
<circle cx="1804.74" cy="51.31" r="6"/><circle cx="2078.13" cy="96.02" r="6"/><circle cx="1970.88" cy="117.03" r="6"/><circle cx="1871.44" cy="139.02" r="6"/><circle cx="1858.25" cy="155.14" r="6"/><circle cx="1833.57" cy="169.31" r="6"/><circle cx="1913.95" cy="184.95" r="6"/><circle cx="1813.54" cy="192.04" r="6"/><circle cx="1853.6" cy="204.01" r="6"/><circle cx="1858.98" cy="210.11" r="6"/><circle cx="1856.54" cy="214.51" r="6"/><circle cx="1840.65" cy="213.78" r="6"/><circle cx="1816.22" cy="219.89" r="6"/><circle cx="1823.55" cy="225.26" r="6"/><circle cx="1836.5" cy="227.22" r="6"/><circle cx="1839.92" cy="230.15" r="6"/><circle cx="1861.42" cy="231.37" r="6"/><circle cx="1882.68" cy="232.1" r="6"/><circle cx="1802.79" cy="244.81" r="6"/><circle cx="1821.84" cy="247.25" r="6"/><circle cx="1824.29" cy="250.43" r="6"/><circle cx="1828.44" cy="254.09" r="6"/><circle cx="1765.65" cy="253.36" r="6"/><circle cx="1798.39" cy="259.47" r="6"/><circle cx="1807.67" cy="255.31" r="6"/><circle cx="1810.11" cy="258.98" r="6"/><circle cx="1922.01" cy="255.8" r="6"/><circle cx="1985.54" cy="250.92" r="6"/><circle cx="1869.97" cy="259.96" r="6"/><circle cx="1880.97" cy="263.38" r="6"/><circle cx="1815" cy="267.53" r="6"/><circle cx="1827.22" cy="267.53" r="6"/><circle cx="1832.1" cy="268.75" r="6"/><circle cx="1824.77" cy="265.09" r="6"/><circle cx="1812.56" cy="273.64" r="6"/><circle cx="1867.77" cy="275.84" r="6"/><circle cx="1799.12" cy="279.75" r="6"/><circle cx="1807.67" cy="280.97" r="6"/><circle cx="1824.77" cy="284.39" r="6"/><circle cx="1809.14" cy="287.81" r="6"/><circle cx="1813.78" cy="291.23" r="6"/><circle cx="1885.85" cy="292.21" r="6"/><circle cx="1802.3" cy="301.25" r="6"/><circle cx="1885.85" cy="305.4" r="6"/><circle cx="1811.34" cy="313.46" r="6"/><circle cx="1809.63" cy="360.37" r="6"/>
</g>
<text x="1745.9" y="378.14" text-anchor="end" font-size="30.5">-20</text>
<text x="1745.9" y="280.4" text-anchor="end" font-size="30.5">0</text>
<text x="1745.9" y="182.66" text-anchor="end" font-size="30.5">20</text>
<text x="1745.9" y="84.92" text-anchor="end" font-size="30.5">40</text>
<text x="1821.6" y="397.5" text-anchor="middle" font-size="30.5">0</text>
<text x="1958.8" y="397.5" text-anchor="middle" font-size="30.5">10</text>
<text x="2096" y="397.5" text-anchor="middle" font-size="30.5">20</text>
<text x="2097.8" y="277.5" text-anchor="end" font-size="27.8">n = 47 pi-INs</text>
<text x="2096.8" y="311.7" text-anchor="end" font-size="28">(VGAT+)</text>
<text x="2097.8" y="347.5" text-anchor="end" font-size="27.6">R = 0.42, p = 0.003</text>
<text text-anchor="middle" transform="translate(1645.2 220) rotate(-90)">Change in spontaneous</text>
<text text-anchor="middle" transform="translate(1678.7 220) rotate(-90)">firing rate (run - rest, sp/sec)</text>
<text x="1939.3" y="427.4" text-anchor="middle" font-size="27.8">Response strength</text>
<text x="1936" y="461" text-anchor="middle" font-size="27.8">to <tspan font-weight="bold" font-style="italic">reafferent</tspan> frequency (sp/s)</text>
</g>
<g id="p-f">
<text x="2" y="559.6" font-weight="bold" class="b" font-size="30.5">f</text>
<clipPath id="fclip"><rect x="155.3" y="592.6" width="281.7" height="281.3"/></clipPath>
<g clip-path="url(#fclip)">
<line x1="155.3" y1="833.9" x2="437" y2="833.9" stroke="#000" stroke-width="2.7"/>
<path d="M154.78 842.66 L164.84 840.74 L174.89 838.75 L184.94 836.68 L195 834.48 L205.06 832.14 L215.11 829.62 L225.16 826.93 L235.22 824.09 L245.28 821.12 L255.33 818.05 L265.38 814.91 L275.44 811.72 L285.5 808.49 L295.55 805.24 L305.61 801.96 L315.66 798.67 L325.72 795.36 L335.77 792.04 L345.83 788.72 L355.88 785.38 L365.94 782.05 L375.99 778.7 L386.05 775.36 L396.1 772.01 L406.15 768.66 L416.21 765.3 L426.26 761.95 L436.32 758.59 L436.32 797.24 L426.26 798.95 L416.21 800.66 L406.15 802.37 L396.1 804.09 L386.05 805.81 L375.99 807.53 L365.94 809.25 L355.88 810.99 L345.83 812.72 L335.77 814.46 L325.72 816.21 L315.66 817.97 L305.61 819.75 L295.55 821.54 L285.5 823.35 L275.44 825.19 L265.38 827.07 L255.33 829 L245.28 831 L235.22 833.09 L225.16 835.32 L215.11 837.69 L205.06 840.25 L195 842.97 L184.94 845.84 L174.89 848.83 L164.84 851.92 L154.78 855.07Z" fill="#0072bd" fill-opacity="0.55"/>
<g fill="#0072bd" stroke="none" stroke-width="2" fill-opacity="0.5">
<circle cx="238.94" cy="812.1" r="7.2"/><circle cx="222.96" cy="842.38" r="7.2"/><circle cx="232.99" cy="832.55" r="7.2"/><circle cx="186.17" cy="860.74" r="7.2"/><circle cx="225.17" cy="837.97" r="7.2"/><circle cx="234.99" cy="825.15" r="7.2"/><circle cx="206.33" cy="840.8" r="7.2"/><circle cx="262.64" cy="806.06" r="7.2"/><circle cx="237.64" cy="831.35" r="7.2"/><circle cx="194.97" cy="842.3" r="7.2"/><circle cx="260.08" cy="818.21" r="7.2"/><circle cx="212.01" cy="845.79" r="7.2"/><circle cx="223.25" cy="839.77" r="7.2"/><circle cx="219.45" cy="825.77" r="7.2"/><circle cx="245.47" cy="824.82" r="7.2"/><circle cx="210.72" cy="832.7" r="7.2"/><circle cx="228.37" cy="843.29" r="7.2"/><circle cx="257.28" cy="820.84" r="7.2"/><circle cx="207.61" cy="836.44" r="7.2"/><circle cx="211.85" cy="831.03" r="7.2"/><circle cx="204.92" cy="849.85" r="7.2"/><circle cx="171.93" cy="845.63" r="7.2"/><circle cx="206.51" cy="841.19" r="7.2"/><circle cx="238.66" cy="817.77" r="7.2"/><circle cx="206.87" cy="833" r="7.2"/><circle cx="213.96" cy="835.87" r="7.2"/><circle cx="237.46" cy="822.56" r="7.2"/><circle cx="226.61" cy="829.46" r="7.2"/><circle cx="183.75" cy="848.33" r="7.2"/><circle cx="228.49" cy="833.71" r="7.2"/><circle cx="200.06" cy="834.19" r="7.2"/><circle cx="196.51" cy="844.53" r="7.2"/><circle cx="240.78" cy="830.58" r="7.2"/><circle cx="254.17" cy="819.13" r="7.2"/><circle cx="238.98" cy="817.34" r="7.2"/><circle cx="217.19" cy="845.04" r="7.2"/><circle cx="273.75" cy="823.92" r="7.2"/><circle cx="273.53" cy="820.32" r="7.2"/><circle cx="199.71" cy="869.69" r="7.2"/><circle cx="188.34" cy="865.39" r="7.2"/><circle cx="208.54" cy="868.86" r="7.2"/><circle cx="207.6" cy="860.25" r="7.2"/><circle cx="182.34" cy="860.02" r="7.2"/><circle cx="182.58" cy="869.85" r="7.2"/><circle cx="202.8" cy="867.79" r="7.2"/><circle cx="393.16" cy="775.45" r="7.2"/><circle cx="369.39" cy="786.56" r="7.2"/><circle cx="362.06" cy="810.99" r="7.2"/><circle cx="286.54" cy="815.43" r="7.2"/><circle cx="275.43" cy="819.88" r="7.2"/><circle cx="268.77" cy="830.98" r="7.2"/><circle cx="286.54" cy="829.87" r="7.2"/><circle cx="276.54" cy="844.31" r="7.2"/><circle cx="242.11" cy="806.55" r="7.2"/><circle cx="253.22" cy="844.31" r="7.2"/><circle cx="213.24" cy="862.08" r="7.2"/><circle cx="236.56" cy="846.53" r="7.2"/><circle cx="244.34" cy="809.88" r="7.2"/><circle cx="217.68" cy="850.97" r="7.2"/><circle cx="188.8" cy="835.42" r="7.2"/><circle cx="195.47" cy="868.74" r="7.2"/>
</g>
<path d="M154.78 842.57 L164.84 839.03 L174.89 835.41 L184.94 831.66 L195 827.72 L205.06 823.5 L215.11 818.93 L225.16 814 L235.22 808.78 L245.28 803.35 L255.33 797.79 L265.38 792.13 L275.44 786.42 L285.5 780.67 L295.55 774.88 L305.61 769.08 L315.66 763.27 L325.72 757.44 L335.77 751.6 L345.83 745.75 L355.88 739.9 L365.94 734.05 L375.99 728.19 L386.05 722.32 L396.1 716.46 L406.15 710.59 L416.21 704.72 L426.26 698.85 L436.32 692.97 L436.32 751.16 L426.26 754.5 L416.21 757.84 L406.15 761.18 L396.1 764.52 L386.05 767.87 L375.99 771.21 L365.94 774.56 L355.88 777.92 L345.83 781.28 L335.77 784.64 L325.72 788.01 L315.66 791.4 L305.61 794.79 L295.55 798.2 L285.5 801.63 L275.44 805.08 L265.38 808.58 L255.33 812.14 L245.28 815.78 L235.22 819.56 L225.16 823.55 L215.11 827.84 L205.06 832.48 L195 837.47 L184.94 842.74 L174.89 848.2 L164.84 853.79 L154.78 859.46Z" fill="#d95319" fill-opacity="0.5"/>
<g fill="#d95319" stroke="none" stroke-width="2" fill-opacity="0.5">
<circle cx="195.79" cy="838.51" r="7.2"/><circle cx="229.24" cy="845.51" r="7.2"/><circle cx="214.53" cy="846.37" r="7.2"/><circle cx="237.05" cy="823.79" r="7.2"/><circle cx="241.67" cy="829.4" r="7.2"/><circle cx="224.33" cy="828.94" r="7.2"/><circle cx="203.76" cy="826.94" r="7.2"/><circle cx="194.37" cy="831.92" r="7.2"/><circle cx="229.73" cy="825.61" r="7.2"/><circle cx="209.7" cy="809.2" r="7.2"/><circle cx="218.17" cy="831.98" r="7.2"/><circle cx="220.01" cy="831.29" r="7.2"/><circle cx="210.15" cy="830.62" r="7.2"/><circle cx="253.78" cy="823.98" r="7.2"/><circle cx="220.3" cy="821.15" r="7.2"/><circle cx="253.62" cy="826.07" r="7.2"/><circle cx="205.83" cy="807.1" r="7.2"/><circle cx="190.7" cy="832.32" r="7.2"/><circle cx="229.19" cy="806.85" r="7.2"/><circle cx="229.1" cy="830.55" r="7.2"/><circle cx="210.11" cy="823.77" r="7.2"/><circle cx="221.17" cy="824.32" r="7.2"/><circle cx="209.32" cy="816.84" r="7.2"/><circle cx="244.36" cy="824.65" r="7.2"/><circle cx="208.94" cy="821.56" r="7.2"/><circle cx="225.77" cy="835.2" r="7.2"/><circle cx="208.79" cy="818.91" r="7.2"/><circle cx="215.38" cy="830.02" r="7.2"/><circle cx="220.97" cy="827.08" r="7.2"/><circle cx="217.08" cy="843.41" r="7.2"/><circle cx="248.78" cy="822.89" r="7.2"/><circle cx="201.26" cy="820.1" r="7.2"/><circle cx="222.71" cy="826.51" r="7.2"/><circle cx="236.09" cy="806.49" r="7.2"/><circle cx="227.14" cy="812.91" r="7.2"/><circle cx="198.64" cy="833" r="7.2"/><circle cx="231.17" cy="840.4" r="7.2"/><circle cx="212.28" cy="816.57" r="7.2"/><circle cx="236" cy="820.7" r="7.2"/><circle cx="227.09" cy="819.83" r="7.2"/><circle cx="226.08" cy="840.88" r="7.2"/><circle cx="191.15" cy="839.46" r="7.2"/><circle cx="251.84" cy="831.34" r="7.2"/><circle cx="212.74" cy="829.61" r="7.2"/><circle cx="227.45" cy="822.05" r="7.2"/><circle cx="221.97" cy="837.37" r="7.2"/><circle cx="220.13" cy="824.6" r="7.2"/><circle cx="239.39" cy="826.19" r="7.2"/><circle cx="206.06" cy="824.52" r="7.2"/><circle cx="188.99" cy="838.15" r="7.2"/><circle cx="198.91" cy="826.13" r="7.2"/><circle cx="254.97" cy="817.63" r="7.2"/><circle cx="237.79" cy="823.44" r="7.2"/><circle cx="222.17" cy="830.49" r="7.2"/><circle cx="195.36" cy="839.71" r="7.2"/><circle cx="232.27" cy="820.29" r="7.2"/><circle cx="237.79" cy="812.31" r="7.2"/><circle cx="211.6" cy="818.63" r="7.2"/><circle cx="252.52" cy="824.34" r="7.2"/><circle cx="236.79" cy="826.92" r="7.2"/><circle cx="219.3" cy="833.87" r="7.2"/><circle cx="219.09" cy="830.86" r="7.2"/><circle cx="222.91" cy="844.69" r="7.2"/><circle cx="254.84" cy="812.6" r="7.2"/><circle cx="210.77" cy="835.29" r="7.2"/><circle cx="217.19" cy="821.39" r="7.2"/><circle cx="224.79" cy="823.1" r="7.2"/><circle cx="196.66" cy="817.39" r="7.2"/><circle cx="221.46" cy="839.61" r="7.2"/><circle cx="201.4" cy="840.59" r="7.2"/><circle cx="198.64" cy="818.6" r="7.2"/><circle cx="213.1" cy="817.87" r="7.2"/><circle cx="220.55" cy="839.67" r="7.2"/><circle cx="205.24" cy="808.44" r="7.2"/><circle cx="203.06" cy="837.22" r="7.2"/><circle cx="239.84" cy="824.51" r="7.2"/><circle cx="217" cy="814.51" r="7.2"/><circle cx="224.81" cy="835.56" r="7.2"/><circle cx="191.26" cy="836.18" r="7.2"/><circle cx="238.37" cy="826.61" r="7.2"/><circle cx="196.65" cy="815.6" r="7.2"/><circle cx="236.03" cy="835" r="7.2"/><circle cx="210.35" cy="837.95" r="7.2"/><circle cx="214.59" cy="819.22" r="7.2"/><circle cx="246.9" cy="815.84" r="7.2"/><circle cx="209.22" cy="832.58" r="7.2"/><circle cx="190.19" cy="829.9" r="7.2"/><circle cx="206.09" cy="825.87" r="7.2"/><circle cx="193.69" cy="833.44" r="7.2"/><circle cx="200.81" cy="838.8" r="7.2"/><circle cx="195.2" cy="837.65" r="7.2"/><circle cx="195.22" cy="823.94" r="7.2"/><circle cx="218.97" cy="838.37" r="7.2"/><circle cx="226.61" cy="823.86" r="7.2"/><circle cx="244.15" cy="826.62" r="7.2"/><circle cx="213.24" cy="833.37" r="7.2"/><circle cx="219.42" cy="822.66" r="7.2"/><circle cx="220.35" cy="829.04" r="7.2"/><circle cx="227.57" cy="825.47" r="7.2"/><circle cx="221.69" cy="834.8" r="7.2"/><circle cx="220.95" cy="835.41" r="7.2"/><circle cx="201.5" cy="826.96" r="7.2"/><circle cx="235.58" cy="825.59" r="7.2"/><circle cx="213.81" cy="818.83" r="7.2"/><circle cx="242.73" cy="814.51" r="7.2"/><circle cx="213.68" cy="825.75" r="7.2"/><circle cx="211.01" cy="830.06" r="7.2"/><circle cx="201.3" cy="830.52" r="7.2"/><circle cx="194.92" cy="825.21" r="7.2"/><circle cx="199.98" cy="823.81" r="7.2"/><circle cx="193.17" cy="832.21" r="7.2"/><circle cx="224.45" cy="835.48" r="7.2"/><circle cx="203.9" cy="806.8" r="7.2"/><circle cx="204.51" cy="834.21" r="7.2"/><circle cx="206.5" cy="827.66" r="7.2"/><circle cx="216.63" cy="818.65" r="7.2"/><circle cx="231.79" cy="829.42" r="7.2"/><circle cx="210.52" cy="839.86" r="7.2"/><circle cx="189.42" cy="835.7" r="7.2"/><circle cx="230.65" cy="824.98" r="7.2"/><circle cx="261.27" cy="796.44" r="7.2"/><circle cx="260.4" cy="788.02" r="7.2"/><circle cx="232.49" cy="804.12" r="7.2"/><circle cx="261.92" cy="794.43" r="7.2"/><circle cx="218.71" cy="805.93" r="7.2"/><circle cx="262.17" cy="794.46" r="7.2"/><circle cx="208.84" cy="805.36" r="7.2"/><circle cx="196.27" cy="805.55" r="7.2"/><circle cx="220.84" cy="805.92" r="7.2"/><circle cx="246.69" cy="792.16" r="7.2"/><circle cx="187.96" cy="808.64" r="7.2"/><circle cx="207.88" cy="798.18" r="7.2"/><circle cx="198.73" cy="861.17" r="7.2"/><circle cx="179.09" cy="863.73" r="7.2"/><circle cx="206.64" cy="859.83" r="7.2"/><circle cx="192.09" cy="854.72" r="7.2"/><circle cx="193.5" cy="851.09" r="7.2"/><circle cx="197.26" cy="864.76" r="7.2"/><circle cx="197.91" cy="859.62" r="7.2"/><circle cx="189.24" cy="858.62" r="7.2"/><circle cx="180.2" cy="853.17" r="7.2"/><circle cx="186.6" cy="857.92" r="7.2"/><circle cx="197.32" cy="851.45" r="7.2"/><circle cx="170.25" cy="860.98" r="7.2"/><circle cx="186.27" cy="842.28" r="7.2"/><circle cx="202.78" cy="852.73" r="7.2"/><circle cx="404.26" cy="702.15" r="7.2"/><circle cx="394.27" cy="737.69" r="7.2"/><circle cx="315.42" cy="755.46" r="7.2"/><circle cx="325.41" cy="755.46" r="7.2"/><circle cx="264.33" cy="771.01" r="7.2"/><circle cx="269.88" cy="771.01" r="7.2"/><circle cx="228.79" cy="783.23" r="7.2"/><circle cx="248.78" cy="779.89" r="7.2"/><circle cx="259.88" cy="781" r="7.2"/><circle cx="253.22" cy="792.11" r="7.2"/><circle cx="262.11" cy="795.44" r="7.2"/><circle cx="275.43" cy="786.56" r="7.2"/><circle cx="282.1" cy="788.78" r="7.2"/><circle cx="287.65" cy="786.56" r="7.2"/><circle cx="275.43" cy="793.22" r="7.2"/><circle cx="293.2" cy="799.88" r="7.2"/><circle cx="312.08" cy="801" r="7.2"/><circle cx="195.47" cy="797.66" r="7.2"/><circle cx="208.8" cy="795.44" r="7.2"/><circle cx="215.46" cy="794.33" r="7.2"/><circle cx="222.12" cy="791" r="7.2"/><circle cx="242.11" cy="797.66" r="7.2"/><circle cx="255.44" cy="806.55" r="7.2"/>
</g>
<line x1="154.78" y1="848.86" x2="436.32" y2="777.91" stroke="#0072bd" stroke-width="2.4"/>
<line x1="154.78" y1="851.01" x2="436.32" y2="722.07" stroke="#d95319" stroke-width="2.4"/>
</g>
<line x1="195" y1="592.6" x2="195" y2="873.9" stroke="#000" stroke-width="2.9"/>
<line x1="155.3" y1="873.9" x2="437" y2="592.6" stroke="#000" stroke-width="2.9"/>
<path d="M155.3 592.6 L155.3 873.9 L437 873.9" fill="none" stroke="#000" stroke-width="2.3" stroke-linecap="square"/>
<path d="M195 873.9v-3.6M295.55 873.9v-3.6M396.1 873.9v-3.6M155.3 833.9h3.6M155.3 733.35h3.6M155.3 632.8h3.6" stroke="#000" stroke-width="1.84" fill="none"/>
<rect x="168.4" y="592.9" width="149.9" height="149.2" fill="#fff" stroke="#000" stroke-width="2.6"/>
<line x1="213.2" y1="592.9" x2="213.2" y2="742.1" stroke="#000" stroke-width="2.6"/>
<line x1="168.4" y1="659.3" x2="318.3" y2="659.3" stroke="#000" stroke-width="2.6"/>
<line x1="168.4" y1="703.3" x2="278.8" y2="592.9" stroke="#000" stroke-width="2.6"/>
<line x1="168.4" y1="689.3" x2="318.3" y2="619.3" stroke="#d95319" stroke-width="2.2"/>
<line x1="168.4" y1="702.6" x2="318.3" y2="661.7" stroke="#0072bd" stroke-width="2.2"/>
<text x="213.5" y="737.7">0</text>
<text x="315.8" y="737.7" text-anchor="end">12.5</text>
<text x="146.8" y="843.7" text-anchor="end">0</text>
<text x="195" y="899.5" text-anchor="middle">0</text>
<text x="146.8" y="743.15" text-anchor="end">50</text>
<text x="295.55" y="899.5" text-anchor="middle">50</text>
<text x="146.8" y="642.6" text-anchor="end">100</text>
<text x="396.1" y="899.5" text-anchor="middle">100</text>
<text x="436.5" y="827.6" text-anchor="end" fill="#0072bd" style="stroke:#0072bd">Reaf</text>
<text x="442" y="865.4" text-anchor="end" fill="#d95319" style="stroke:#d95319">+/- 2 Oct</text>
<text text-anchor="middle" transform="translate(46.6 732) rotate(-90)">Response strength</text>
<text text-anchor="middle" transform="translate(79.5 733) rotate(-90)">during running (sp/s)</text>
<text x="299.4" y="930.6" text-anchor="middle">Response strength</text>
<text x="296.4" y="963" text-anchor="middle">during rest (sp/s)</text>
</g>
<g id="p-g">
<text x="469.5" y="560.2" font-weight="bold" class="b" font-size="30.5">g</text>
<path d="M637.74 791.25 L648.89 791.5 L664.57 791.85 L678.55 792.02 L688.19 791.99 L696.13 791.79 L704.06 791.25 L712.56 790.39 L721.07 789.19 L729.57 787.42 L738.07 784.92 L746.57 781.85 L755.08 778.5 L763.58 775 L772.08 771.22 L780.58 767.02 L788.61 762.48 L796.64 757.52 L806.09 751.71 L817.9 744.72 L831.13 736.88 L844.35 728.76 L856.63 720.54 L868.92 712.03 L882.61 703.25 L898.88 693.96 L916.57 684.39 L933.63 675.19 L950.86 665.78 L967.47 656.74 L979.03 650.45 L979.03 804.51 L953.3 803.78 L916.85 802.76 L882.61 801.96 L854.69 801.62 L828.97 801.51 L806.09 801.45 L786.06 801.37 L768.87 801.34 L755.08 801.45 L745.91 801.59 L740.15 801.88 L734.67 802.73 L728.53 804.33 L722.67 806.51 L716.81 809.11 L710.96 812.18 L705.1 815.67 L698.96 819.31 L692.35 823.04 L685.45 826.91 L678.55 830.79 L671.75 834.63 L664.95 838.48 L658.15 842.27 L650.59 846.37 L643.03 850.41 L637.74 853.23Z" fill="#e6e6e6"/>
<path d="M638.3 591 L638.3 932.5 L979.3 932.5" fill="none" stroke="#000" stroke-width="2.2" stroke-linecap="square"/>
<path d="M706.1 932.5v-3.6M774.43 932.5v-3.6M842.75 932.5v-3.6M911.08 932.5v-3.6M979.4 932.5v-3.6M638.3 864.2h3.6M638.3 795.88h3.6M638.3 727.55h3.6M638.3 659.23h3.6M638.3 590.9h3.6" stroke="#000" stroke-width="1.76" fill="none"/>
<line x1="637.7" y1="821.9" x2="979" y2="730.5" stroke="#000" stroke-width="2"/>
<g fill="none" stroke="#000" stroke-width="4">
<circle cx="765.79" cy="623.92" r="5.75"/><circle cx="721.41" cy="662.69" r="5.75"/><circle cx="848.43" cy="670.09" r="5.75"/><circle cx="689.27" cy="676.72" r="5.75"/><circle cx="705.59" cy="686.67" r="5.75"/><circle cx="887.21" cy="702.74" r="5.75"/><circle cx="734.16" cy="705.03" r="5.75"/><circle cx="725.49" cy="723.14" r="5.75"/><circle cx="701.51" cy="728.76" r="5.75"/><circle cx="712.99" cy="727.99" r="5.75"/><circle cx="706.61" cy="732.58" r="5.75"/><circle cx="753.8" cy="729.27" r="5.75"/><circle cx="773.44" cy="724.16" r="5.75"/><circle cx="808.13" cy="728.76" r="5.75"/><circle cx="756.35" cy="741.51" r="5.75"/><circle cx="808.64" cy="741" r="5.75"/><circle cx="733.39" cy="740.74" r="5.75"/><circle cx="792.57" cy="748.4" r="5.75"/><circle cx="721.92" cy="750.44" r="5.75"/><circle cx="734.16" cy="751.2" r="5.75"/><circle cx="723.19" cy="755.54" r="5.75"/><circle cx="704.06" cy="757.32" r="5.75"/><circle cx="709.16" cy="756.81" r="5.75"/><circle cx="737.22" cy="766.51" r="5.75"/><circle cx="704.06" cy="765.74" r="5.75"/><circle cx="724.47" cy="767.02" r="5.75"/><circle cx="711.71" cy="770.84" r="5.75"/><circle cx="727.02" cy="774.67" r="5.75"/><circle cx="752.02" cy="775.18" r="5.75"/><circle cx="752.53" cy="779.77" r="5.75"/><circle cx="706.61" cy="778.5" r="5.75"/><circle cx="730.08" cy="784.87" r="5.75"/><circle cx="705.34" cy="788.7" r="5.75"/><circle cx="792.32" cy="781.05" r="5.75"/><circle cx="712.99" cy="795.08" r="5.75"/><circle cx="739.77" cy="806.04" r="5.75"/><circle cx="737.99" cy="814.72" r="5.75"/><circle cx="749.97" cy="827.47" r="5.75"/><circle cx="745.38" cy="828.24" r="5.75"/><circle cx="768.6" cy="826.45" r="5.75"/><circle cx="788.75" cy="829.26" r="5.75"/><circle cx="820.89" cy="833.85" r="5.75"/><circle cx="733.39" cy="834.61" r="5.75"/><circle cx="724.47" cy="823.13" r="5.75"/><circle cx="718.09" cy="826.96" r="5.75"/><circle cx="751.25" cy="841.5" r="5.75"/><circle cx="752.02" cy="846.86" r="5.75"/><circle cx="739.77" cy="846.09" r="5.75"/><circle cx="883.12" cy="847.11" r="5.75"/><circle cx="727.02" cy="846.09" r="5.75"/><circle cx="728.29" cy="855.02" r="5.75"/><circle cx="743.6" cy="858.33" r="5.75"/><circle cx="798.44" cy="853.23" r="5.75"/><circle cx="797.16" cy="857.57" r="5.75"/><circle cx="791.55" cy="859.87" r="5.75"/><circle cx="690.03" cy="855.02" r="5.75"/><circle cx="687.48" cy="864.71" r="5.75"/><circle cx="691.31" cy="871.09" r="5.75"/><circle cx="723.96" cy="869.05" r="5.75"/><circle cx="721.92" cy="862.67" r="5.75"/><circle cx="701.26" cy="853.14" r="5.75"/><circle cx="711.45" cy="838.52" r="5.75"/><circle cx="702.37" cy="860.27" r="5.75"/><circle cx="715.2" cy="840.83" r="5.75"/><circle cx="708.63" cy="821.66" r="5.75"/><circle cx="710.38" cy="810.08" r="5.75"/><circle cx="714.89" cy="821.39" r="5.75"/><circle cx="702.73" cy="808.22" r="5.75"/><circle cx="716.66" cy="848.01" r="5.75"/><circle cx="708.47" cy="813.31" r="5.75"/><circle cx="701.04" cy="862" r="5.75"/><circle cx="700.39" cy="869.66" r="5.75"/><circle cx="707.51" cy="843.58" r="5.75"/><circle cx="705.12" cy="838.91" r="5.75"/><circle cx="716.46" cy="821.57" r="5.75"/><circle cx="714.6" cy="819.75" r="5.75"/><circle cx="714.05" cy="858.2" r="5.75"/><circle cx="710.28" cy="855.91" r="5.75"/><circle cx="700.34" cy="838.33" r="5.75"/><circle cx="715.61" cy="819.23" r="5.75"/><circle cx="706.56" cy="830.62" r="5.75"/><circle cx="707.47" cy="832.04" r="5.75"/><circle cx="708.44" cy="839.38" r="5.75"/><circle cx="709.62" cy="857.19" r="5.75"/><circle cx="702.5" cy="847.53" r="5.75"/><circle cx="709.75" cy="848.48" r="5.75"/><circle cx="701.6" cy="817.08" r="5.75"/><circle cx="705.23" cy="869.6" r="5.75"/><circle cx="705.2" cy="846.72" r="5.75"/><circle cx="704.33" cy="812.44" r="5.75"/><circle cx="699.11" cy="861.73" r="5.75"/><circle cx="714.53" cy="831.29" r="5.75"/><circle cx="712.5" cy="852.17" r="5.75"/><circle cx="706.51" cy="873.9" r="5.75"/><circle cx="716.83" cy="839.34" r="5.75"/><circle cx="705.83" cy="822.43" r="5.75"/><circle cx="699.19" cy="861.15" r="5.75"/><circle cx="714.46" cy="838.8" r="5.75"/><circle cx="703.28" cy="825.39" r="5.75"/><circle cx="706.78" cy="817.12" r="5.75"/><circle cx="699.19" cy="828.74" r="5.75"/><circle cx="713.85" cy="838.51" r="5.75"/><circle cx="703.15" cy="871.81" r="5.75"/><circle cx="709.08" cy="855.83" r="5.75"/><circle cx="716.8" cy="847" r="5.75"/><circle cx="706.92" cy="845.6" r="5.75"/><circle cx="716.1" cy="826.65" r="5.75"/><circle cx="709.27" cy="824.43" r="5.75"/><circle cx="714.34" cy="805.99" r="5.75"/><circle cx="712.54" cy="871.47" r="5.75"/><circle cx="698.19" cy="846.47" r="5.75"/><circle cx="711.64" cy="864.37" r="5.75"/><circle cx="710.35" cy="823.12" r="5.75"/><circle cx="706.48" cy="871.8" r="5.75"/><circle cx="698.23" cy="836.28" r="5.75"/><circle cx="700.74" cy="865.46" r="5.75"/><circle cx="711.89" cy="814.06" r="5.75"/><circle cx="709.36" cy="827.78" r="5.75"/><circle cx="708.39" cy="820.52" r="5.75"/><circle cx="701.28" cy="818.04" r="5.75"/><circle cx="705.88" cy="854.54" r="5.75"/><circle cx="709.61" cy="808.48" r="5.75"/><circle cx="713.1" cy="865.91" r="5.75"/><circle cx="714.47" cy="860.14" r="5.75"/><circle cx="697.85" cy="837.46" r="5.75"/><circle cx="699.06" cy="858.28" r="5.75"/><circle cx="701.48" cy="854.64" r="5.75"/><circle cx="703.17" cy="853.62" r="5.75"/><circle cx="704.48" cy="808.19" r="5.75"/><circle cx="706.12" cy="826.75" r="5.75"/><circle cx="717.21" cy="825.75" r="5.75"/><circle cx="708.59" cy="843.39" r="5.75"/><circle cx="710.72" cy="840.54" r="5.75"/><circle cx="704.41" cy="853.81" r="5.75"/><circle cx="709.08" cy="844.18" r="5.75"/><circle cx="699.07" cy="861.8" r="5.75"/><circle cx="704.58" cy="874.19" r="5.75"/><circle cx="699.27" cy="861.78" r="5.75"/><circle cx="714.16" cy="836.37" r="5.75"/><circle cx="711.16" cy="806.65" r="5.75"/><circle cx="711.66" cy="835.99" r="5.75"/><circle cx="708.9" cy="832.3" r="5.75"/><circle cx="706.39" cy="820.92" r="5.75"/><circle cx="698.74" cy="835.38" r="5.75"/><circle cx="703.04" cy="854.14" r="5.75"/><circle cx="715.4" cy="855.49" r="5.75"/><circle cx="707.57" cy="821.68" r="5.75"/><circle cx="706.04" cy="839.05" r="5.75"/><circle cx="711.38" cy="872.1" r="5.75"/><circle cx="699.54" cy="838.56" r="5.75"/><circle cx="708.35" cy="855.04" r="5.75"/><circle cx="711.27" cy="857.91" r="5.75"/><circle cx="712.17" cy="864.87" r="5.75"/><circle cx="712.84" cy="852.66" r="5.75"/><circle cx="703" cy="868.88" r="5.75"/><circle cx="707.42" cy="785.25" r="5.75"/><circle cx="714.13" cy="794.15" r="5.75"/><circle cx="716.65" cy="769.73" r="5.75"/><circle cx="706.29" cy="777.52" r="5.75"/>
</g>
<text x="634" y="941.03" text-anchor="end" font-size="28">-50</text>
<text x="634" y="874.2" text-anchor="end" font-size="28">0</text>
<text x="634" y="805.88" text-anchor="end" font-size="28">50</text>
<text x="634" y="737.55" text-anchor="end" font-size="28">100</text>
<text x="634" y="669.23" text-anchor="end" font-size="28">150</text>
<text x="634" y="600.9" text-anchor="end" font-size="28">200</text>
<text x="706.1" y="959.2" text-anchor="middle" font-size="28">0</text>
<text x="774.43" y="959.2" text-anchor="middle" font-size="28">50</text>
<text x="842.75" y="959.2" text-anchor="middle" font-size="28">100</text>
<text x="911.08" y="959.2" text-anchor="middle" font-size="28">150</text>
<text x="978.4" y="959.2" text-anchor="middle" font-size="28">200</text>
<text x="791.4" y="577.8" text-anchor="middle">Unexpected</text>
<text x="981.6" y="888.2" text-anchor="end">n = 75</text>
<text x="982.2" y="922.2" text-anchor="end">(VGAT+)</text>
<text text-anchor="middle" transform="translate(538.3 757.8) rotate(-90)">Response strength</text>
<text text-anchor="middle" transform="translate(571.4 757.8) rotate(-90)">to M2 stimulation (sp/s)</text>
<text x="816.8" y="985.7" text-anchor="middle">Response strength</text>
<text x="813.2" y="1018.4" text-anchor="middle">to <tspan font-weight="bold" font-style="italic">non-reafferent</tspan> frequency (sp/s)</text>
<line x1="569" y1="1024.3" x2="576" y2="1024.3" stroke="#333" stroke-width="1.8"/>
</g>
<g id="p-h">
<text x="1053.5" y="560.6" font-weight="bold" class="b" font-size="30.5">h</text>
<path d="M1212.54 865.22 L1219.3 862.29 L1228.95 858.09 L1238.55 853.74 L1247.09 849.59 L1255.58 845.29 L1264.06 840.99 L1272.56 836.74 L1281.07 832.49 L1289.57 828.24 L1298.07 824.03 L1306.57 819.83 L1315.08 815.48 L1323.58 810.99 L1332.08 806.37 L1340.58 801.45 L1349.09 796.12 L1357.59 790.49 L1366.09 784.87 L1373.65 779.96 L1381.21 775.05 L1391.6 768.29 L1406.71 758.42 L1424.66 746.71 L1442.61 735.13 L1459.31 724.58 L1476 714.17 L1493.63 703.25 L1515.02 690.08 L1537.34 676.4 L1553.06 666.77 L1553.06 770.84 L1544.9 772.97 L1532.97 776.09 L1519.14 779.77 L1503.4 784.07 L1485.76 788.94 L1468.12 793.8 L1451.12 798.48 L1434.11 803.15 L1417.11 807.83 L1399.16 812.79 L1381.21 817.75 L1366.09 821.86 L1355.7 824.5 L1348.14 826.3 L1340.58 828.24 L1332.08 830.64 L1323.58 833.2 L1315.08 835.89 L1306.57 838.68 L1298.07 841.6 L1289.57 844.82 L1281.07 848.45 L1272.56 852.37 L1264.06 856.29 L1255.58 860.12 L1247.09 863.95 L1238.55 867.77 L1228.95 872.02 L1219.3 876.28 L1212.54 879.25Z" fill="#e6e6e6"/>
<path d="M1211.9 592.2 L1211.9 932.6 L1552.9 932.6" fill="none" stroke="#000" stroke-width="2.2" stroke-linecap="square"/>
<path d="M1336.7 932.6v-3.2M1444.9 932.6v-3.2M1552.9 932.6v-3.2M1211.9 592.2h3.2M1211.9 663.6h3.2M1211.9 736h3.2M1211.9 808.4h3.2M1211.9 880.8h3.2" stroke="#000" stroke-width="1.76" fill="none"/>
<line x1="1212.5" y1="870.8" x2="1553" y2="730.5" stroke="#000" stroke-width="3"/>
<g fill="none" stroke="#000" stroke-width="4">
<circle cx="1325.28" cy="662.18" r="5.75"/><circle cx="1261.51" cy="700.44" r="5.75"/><circle cx="1326.3" cy="702.48" r="5.75"/><circle cx="1420.42" cy="704.52" r="5.75"/><circle cx="1214.58" cy="726.72" r="5.75"/><circle cx="1349" cy="730.29" r="5.75"/><circle cx="1332.42" cy="732.58" r="5.75"/><circle cx="1280.39" cy="751.97" r="5.75"/><circle cx="1398.49" cy="751.46" r="5.75"/><circle cx="1258.96" cy="759.88" r="5.75"/><circle cx="1256.41" cy="768.29" r="5.75"/><circle cx="1242.63" cy="772.63" r="5.75"/><circle cx="1300.03" cy="772.63" r="5.75"/><circle cx="1374.51" cy="774.93" r="5.75"/><circle cx="1299.77" cy="784.87" r="5.75"/><circle cx="1293.39" cy="789.97" r="5.75"/><circle cx="1358.95" cy="788.7" r="5.75"/><circle cx="1360.99" cy="791.25" r="5.75"/><circle cx="1342.11" cy="792.53" r="5.75"/><circle cx="1269.67" cy="794.31" r="5.75"/><circle cx="1437" cy="792.53" r="5.75"/><circle cx="1433.69" cy="798.9" r="5.75"/><circle cx="1394.66" cy="796.35" r="5.75"/><circle cx="1245.7" cy="800.69" r="5.75"/><circle cx="1255.13" cy="800.69" r="5.75"/><circle cx="1290.84" cy="802.73" r="5.75"/><circle cx="1299.77" cy="805.28" r="5.75"/><circle cx="1364.82" cy="802.22" r="5.75"/><circle cx="1348.24" cy="807.32" r="5.75"/><circle cx="1273.75" cy="809.11" r="5.75"/><circle cx="1334.21" cy="811.66" r="5.75"/><circle cx="1336.76" cy="815.48" r="5.75"/><circle cx="1321.96" cy="817.52" r="5.75"/><circle cx="1289.57" cy="815.48" r="5.75"/><circle cx="1241.61" cy="818.03" r="5.75"/><circle cx="1258.96" cy="812.93" r="5.75"/><circle cx="1264.06" cy="816.76" r="5.75"/><circle cx="1301.05" cy="828.24" r="5.75"/><circle cx="1299.77" cy="835.89" r="5.75"/><circle cx="1349.51" cy="836.4" r="5.75"/><circle cx="1340.58" cy="844.82" r="5.75"/><circle cx="1336.76" cy="847.37" r="5.75"/><circle cx="1415.32" cy="847.88" r="5.75"/><circle cx="1434.2" cy="845.33" r="5.75"/><circle cx="1523.47" cy="849.92" r="5.75"/><circle cx="1222.23" cy="856.29" r="5.75"/><circle cx="1294.67" cy="856.29" r="5.75"/><circle cx="1290.84" cy="849.92" r="5.75"/><circle cx="1316.35" cy="864.71" r="5.75"/><circle cx="1336.25" cy="872.36" r="5.75"/><circle cx="1306.15" cy="874.15" r="5.75"/><circle cx="1290.84" cy="874.15" r="5.75"/><circle cx="1295.95" cy="883.08" r="5.75"/><circle cx="1271.71" cy="890.73" r="5.75"/><circle cx="1223.25" cy="901.7" r="5.75"/><circle cx="1239.83" cy="909.86" r="5.75"/><circle cx="1267.38" cy="910.63" r="5.75"/><circle cx="1228.86" cy="927.72" r="5.75"/><circle cx="1256.6" cy="852.83" r="5.75"/><circle cx="1266.57" cy="868.38" r="5.75"/><circle cx="1241.82" cy="842.91" r="5.75"/><circle cx="1265.2" cy="867.95" r="5.75"/><circle cx="1258.63" cy="869.83" r="5.75"/><circle cx="1241.9" cy="880.6" r="5.75"/><circle cx="1257.29" cy="842.59" r="5.75"/><circle cx="1250.3" cy="863.78" r="5.75"/><circle cx="1246.1" cy="872.94" r="5.75"/><circle cx="1244.56" cy="867.94" r="5.75"/><circle cx="1241.24" cy="868.77" r="5.75"/><circle cx="1251.9" cy="858.43" r="5.75"/><circle cx="1257.54" cy="864.47" r="5.75"/><circle cx="1243.77" cy="858.32" r="5.75"/><circle cx="1245.82" cy="890.06" r="5.75"/><circle cx="1245.72" cy="836.94" r="5.75"/><circle cx="1252.05" cy="853.05" r="5.75"/><circle cx="1242.59" cy="853.57" r="5.75"/><circle cx="1251.57" cy="881.54" r="5.75"/><circle cx="1256.41" cy="843.64" r="5.75"/><circle cx="1246.16" cy="883.59" r="5.75"/><circle cx="1265.06" cy="862.58" r="5.75"/><circle cx="1251.07" cy="868.06" r="5.75"/><circle cx="1248.86" cy="877.16" r="5.75"/><circle cx="1256.24" cy="853.35" r="5.75"/><circle cx="1255.87" cy="852.5" r="5.75"/><circle cx="1235.78" cy="874.92" r="5.75"/><circle cx="1247.19" cy="847.94" r="5.75"/><circle cx="1243.63" cy="838.32" r="5.75"/><circle cx="1237.73" cy="847.04" r="5.75"/><circle cx="1240.33" cy="836.99" r="5.75"/><circle cx="1248.73" cy="844.03" r="5.75"/><circle cx="1243.27" cy="877.65" r="5.75"/><circle cx="1237.16" cy="862.03" r="5.75"/><circle cx="1244.93" cy="878.63" r="5.75"/><circle cx="1259.49" cy="860.4" r="5.75"/><circle cx="1239.15" cy="845.5" r="5.75"/><circle cx="1257.22" cy="840.85" r="5.75"/><circle cx="1251.53" cy="839.7" r="5.75"/><circle cx="1243.19" cy="885.87" r="5.75"/><circle cx="1244.82" cy="871.61" r="5.75"/><circle cx="1235.96" cy="881.97" r="5.75"/><circle cx="1267.08" cy="865.95" r="5.75"/><circle cx="1244.05" cy="884.89" r="5.75"/><circle cx="1250.59" cy="842.8" r="5.75"/><circle cx="1240.39" cy="840.93" r="5.75"/><circle cx="1264.72" cy="863.3" r="5.75"/><circle cx="1258.56" cy="882.91" r="5.75"/><circle cx="1245.94" cy="886.53" r="5.75"/><circle cx="1261.38" cy="855.45" r="5.75"/><circle cx="1256.79" cy="843.22" r="5.75"/><circle cx="1244.82" cy="845.83" r="5.75"/><circle cx="1234.98" cy="866.35" r="5.75"/><circle cx="1265.84" cy="868.95" r="5.75"/><circle cx="1251.21" cy="879.75" r="5.75"/><circle cx="1258.12" cy="882.23" r="5.75"/><circle cx="1250.24" cy="890.62" r="5.75"/><circle cx="1255.34" cy="877.96" r="5.75"/><circle cx="1256.63" cy="851.28" r="5.75"/><circle cx="1240.55" cy="845.99" r="5.75"/><circle cx="1242.06" cy="837.37" r="5.75"/><circle cx="1247.65" cy="851.97" r="5.75"/><circle cx="1235.96" cy="861.19" r="5.75"/><circle cx="1246.34" cy="853.36" r="5.75"/><circle cx="1263.62" cy="850.35" r="5.75"/><circle cx="1251.82" cy="886.77" r="5.75"/><circle cx="1250.65" cy="844.66" r="5.75"/><circle cx="1241.81" cy="839.63" r="5.75"/><circle cx="1249.2" cy="881.89" r="5.75"/><circle cx="1250.23" cy="835.2" r="5.75"/><circle cx="1243.08" cy="855.06" r="5.75"/><circle cx="1248.25" cy="871" r="5.75"/><circle cx="1263.39" cy="873.56" r="5.75"/><circle cx="1244" cy="849.02" r="5.75"/><circle cx="1235.05" cy="859.69" r="5.75"/><circle cx="1262.1" cy="844.63" r="5.75"/><circle cx="1248.83" cy="871.34" r="5.75"/><circle cx="1241.5" cy="846.05" r="5.75"/><circle cx="1242.98" cy="856.17" r="5.75"/><circle cx="1252.51" cy="841.94" r="5.75"/><circle cx="1245.95" cy="889.3" r="5.75"/><circle cx="1252.48" cy="883.27" r="5.75"/><circle cx="1239.71" cy="886.18" r="5.75"/><circle cx="1262.29" cy="845.16" r="5.75"/><circle cx="1251.33" cy="874.27" r="5.75"/><circle cx="1253.19" cy="869.17" r="5.75"/><circle cx="1238.76" cy="866.11" r="5.75"/><circle cx="1243.72" cy="881.67" r="5.75"/><circle cx="1253.52" cy="845.31" r="5.75"/><circle cx="1246.38" cy="838.95" r="5.75"/><circle cx="1254.58" cy="850.43" r="5.75"/><circle cx="1257.86" cy="876.32" r="5.75"/><circle cx="1238.46" cy="839.09" r="5.75"/><circle cx="1244.5" cy="872.17" r="5.75"/><circle cx="1247.49" cy="882.36" r="5.75"/><circle cx="1250.39" cy="841.02" r="5.75"/><circle cx="1232.69" cy="854.43" r="5.75"/><circle cx="1249.01" cy="841.99" r="5.75"/><circle cx="1232" cy="862.75" r="5.75"/><circle cx="1239.37" cy="859.12" r="5.75"/><circle cx="1247.9" cy="875.25" r="5.75"/><circle cx="1253.4" cy="845.35" r="5.75"/><circle cx="1251.81" cy="889.69" r="5.75"/><circle cx="1255.51" cy="852.18" r="5.75"/><circle cx="1247.02" cy="877.49" r="5.75"/><circle cx="1238.38" cy="882" r="5.75"/><circle cx="1243.25" cy="866.52" r="5.75"/><circle cx="1251.68" cy="840.87" r="5.75"/><circle cx="1247.95" cy="855.33" r="5.75"/><circle cx="1265.42" cy="855.58" r="5.75"/><circle cx="1240.87" cy="869.87" r="5.75"/><circle cx="1240.59" cy="871.75" r="5.75"/><circle cx="1242.03" cy="883.85" r="5.75"/><circle cx="1248.07" cy="841.34" r="5.75"/><circle cx="1239.64" cy="879.1" r="5.75"/><circle cx="1262.78" cy="871.04" r="5.75"/><circle cx="1241.67" cy="873.13" r="5.75"/><circle cx="1260.11" cy="854.21" r="5.75"/><circle cx="1231.89" cy="860.69" r="5.75"/><circle cx="1237.98" cy="842.82" r="5.75"/><circle cx="1245.29" cy="835.55" r="5.75"/><circle cx="1263.45" cy="864.29" r="5.75"/><circle cx="1266.7" cy="861.29" r="5.75"/><circle cx="1241.82" cy="885.5" r="5.75"/><circle cx="1243.52" cy="837.9" r="5.75"/><circle cx="1238.26" cy="853.24" r="5.75"/><circle cx="1246.32" cy="840.35" r="5.75"/><circle cx="1256.87" cy="846.23" r="5.75"/><circle cx="1266.95" cy="861.49" r="5.75"/><circle cx="1246.98" cy="879.62" r="5.75"/><circle cx="1241.73" cy="844.68" r="5.75"/><circle cx="1229.81" cy="847.49" r="5.75"/><circle cx="1235.81" cy="880.07" r="5.75"/><circle cx="1242.26" cy="877.97" r="5.75"/><circle cx="1238.01" cy="830.85" r="5.75"/><circle cx="1239.58" cy="854.73" r="5.75"/><circle cx="1234.59" cy="837.22" r="5.75"/><circle cx="1225.92" cy="861.67" r="5.75"/><circle cx="1254.57" cy="833.94" r="5.75"/><circle cx="1245.65" cy="882.54" r="5.75"/><circle cx="1259.94" cy="883.86" r="5.75"/><circle cx="1249.33" cy="860" r="5.75"/><circle cx="1251.02" cy="835.77" r="5.75"/><circle cx="1250.78" cy="843.4" r="5.75"/><circle cx="1252.23" cy="843.16" r="5.75"/><circle cx="1253.01" cy="862.94" r="5.75"/><circle cx="1235.73" cy="835.09" r="5.75"/><circle cx="1255.17" cy="875.73" r="5.75"/><circle cx="1260.23" cy="863.24" r="5.75"/><circle cx="1254.32" cy="827.5" r="5.75"/><circle cx="1239.66" cy="884.91" r="5.75"/><circle cx="1243.45" cy="833.38" r="5.75"/><circle cx="1289.03" cy="856.32" r="5.75"/><circle cx="1281.62" cy="834.21" r="5.75"/><circle cx="1290.8" cy="857.49" r="5.75"/><circle cx="1288.33" cy="838.38" r="5.75"/><circle cx="1297" cy="833.67" r="5.75"/><circle cx="1286.15" cy="849.1" r="5.75"/><circle cx="1298.87" cy="857.14" r="5.75"/><circle cx="1286.84" cy="838.94" r="5.75"/><circle cx="1287.71" cy="834.51" r="5.75"/><circle cx="1285.62" cy="854.25" r="5.75"/><circle cx="1301.84" cy="839.06" r="5.75"/><circle cx="1281.03" cy="853.42" r="5.75"/>
</g>
<text x="1205.3" y="604.6" text-anchor="end" font-size="28">200</text>
<text x="1205.3" y="672.9" text-anchor="end" font-size="28">150</text>
<text x="1205.3" y="741.2" text-anchor="end" font-size="28">100</text>
<text x="1205.3" y="808.7" text-anchor="end" font-size="28">50</text>
<text x="1205.3" y="877.2" text-anchor="end" font-size="28">0</text>
<text x="1205.3" y="945.2" text-anchor="end" font-size="28">-50</text>
<text x="1233.4" y="960" text-anchor="middle" font-size="28">0</text>
<text x="1340.3" y="960" text-anchor="middle" font-size="28">40</text>
<text x="1448.6" y="960" text-anchor="middle" font-size="28">80</text>
<text x="1557.2" y="960" text-anchor="middle" font-size="28">120</text>
<text x="1384.2" y="579.4" text-anchor="middle">put-ENs</text>
<text x="1549.9" y="889" text-anchor="end">n = 181</text>
<text x="1552.2" y="921.7" text-anchor="end">(VGAT+)</text>
<text text-anchor="middle" transform="translate(1108.4 761) rotate(-90)">Response strength</text>
<text text-anchor="middle" transform="translate(1142 761) rotate(-90)">to M2 stimulation (sp/s)</text>
<text x="1369.3" y="986.9" text-anchor="middle">Response strength</text>
<text x="1365.4" y="1019.5" text-anchor="middle">to <tspan font-weight="bold" font-style="italic">reafferent</tspan> frequency (sp/s)</text>
</g>
<g id="p-i">
<text x="1594" y="562.6" font-weight="bold" class="b" font-size="30.5">i</text>
<path d="M1753.55 811.34 L1763.18 809.31 L1776.76 806.45 L1789.15 803.87 L1798.24 802.12 L1806.14 800.65 L1814.04 798.89 L1822.34 796.63 L1830.64 794.1 L1838.94 791.43 L1847.23 788.71 L1855.53 785.85 L1863.83 782.71 L1871.21 779.76 L1878.58 776.54 L1888.72 771.51 L1903.47 763.58 L1920.99 753.85 L1938.51 744.13 L1955.11 734.95 L1971.7 725.78 L1988.3 716.74 L2004.64 707.99 L2020.99 699.37 L2038.08 690.61 L2058.52 680.56 L2079.69 670.37 L2094.59 663.22 L2094.59 755.33 L2087.07 756.53 L2076.03 758.28 L2062.98 760.31 L2047.73 762.61 L2030.46 765.19 L2013.19 767.78 L1996.6 770.27 L1980 772.75 L1963.4 775.24 L1946.35 777.78 L1929.29 780.32 L1913.62 782.71 L1899.79 784.83 L1887.34 786.82 L1876.28 788.94 L1867.06 791.19 L1859.22 793.59 L1851.38 796.4 L1843.08 799.77 L1834.79 803.55 L1826.49 807.61 L1818.19 811.94 L1809.89 816.55 L1801.6 821.3 L1793.23 826.29 L1784.87 831.43 L1776.7 836.23 L1768 840.88 L1759.49 845.2 L1753.55 848.18Z" fill="#e6e6e6"/>
<path d="M1753.4 594.3 L1753.4 935.3 L2094.2 935.3" fill="none" stroke="#000" stroke-width="2.2" stroke-linecap="square"/>
<path d="M1821.5 935.3v-3.6M1889.78 935.3v-3.6M1958.05 935.3v-3.6M2026.33 935.3v-3.6M2094.6 935.3v-3.6M1753.4 867.8h3.6M1753.4 799.52h3.6M1753.4 731.25h3.6M1753.4 662.97h3.6M1753.4 594.7h3.6" stroke="#000" stroke-width="1.76" fill="none"/>
<line x1="1753.6" y1="829.3" x2="2094.6" y2="709.8" stroke="#000" stroke-width="2"/>
<g fill="none" stroke="#000" stroke-width="4">
<circle cx="1817.28" cy="711.27" r="5.75"/><circle cx="1845.16" cy="711.27" r="5.75"/><circle cx="1855.12" cy="711.27" r="5.75"/><circle cx="1858.85" cy="711.27" r="5.75"/><circle cx="1802.09" cy="741.64" r="5.75"/><circle cx="1814.04" cy="741.64" r="5.75"/><circle cx="1821.01" cy="736.66" r="5.75"/><circle cx="1827.73" cy="741.64" r="5.75"/><circle cx="1845.16" cy="735.41" r="5.75"/><circle cx="1845.16" cy="741.64" r="5.75"/><circle cx="1873.79" cy="736.66" r="5.75"/><circle cx="1878.77" cy="736.66" r="5.75"/><circle cx="1873.79" cy="751.6" r="5.75"/><circle cx="1863.83" cy="756.57" r="5.75"/><circle cx="1888.72" cy="757.32" r="5.75"/><circle cx="1883.74" cy="761.55" r="5.75"/><circle cx="1857.61" cy="760.31" r="5.75"/><circle cx="1878.77" cy="774" r="5.75"/><circle cx="1873.79" cy="787.69" r="5.75"/><circle cx="1894.95" cy="787.19" r="5.75"/><circle cx="1907.39" cy="787.19" r="5.75"/><circle cx="1876.28" cy="801.38" r="5.75"/><circle cx="1884.49" cy="808.85" r="5.75"/><circle cx="1904.16" cy="809.35" r="5.75"/><circle cx="1893.7" cy="820.05" r="5.75"/><circle cx="1898.68" cy="820.05" r="5.75"/><circle cx="1927.31" cy="820.05" r="5.75"/><circle cx="1870.8" cy="823.79" r="5.75"/><circle cx="1866.32" cy="836.73" r="5.75"/><circle cx="1809.81" cy="815.07" r="5.75"/><circle cx="1806.57" cy="846.69" r="5.75"/><circle cx="1809.81" cy="885.52" r="5.75"/><circle cx="1824" cy="885.52" r="5.75"/><circle cx="1847.65" cy="885.52" r="5.75"/><circle cx="1852.63" cy="885.52" r="5.75"/><circle cx="1838.35" cy="795.38" r="5.75"/><circle cx="1829.75" cy="821.64" r="5.75"/><circle cx="1827.97" cy="798.99" r="5.75"/><circle cx="1818.29" cy="823.24" r="5.75"/><circle cx="1819.13" cy="824.05" r="5.75"/><circle cx="1813.51" cy="795.55" r="5.75"/><circle cx="1833.12" cy="821.44" r="5.75"/><circle cx="1827.47" cy="845.59" r="5.75"/><circle cx="1823.07" cy="793.38" r="5.75"/><circle cx="1835.22" cy="834.4" r="5.75"/><circle cx="1831.63" cy="836.86" r="5.75"/><circle cx="1840.59" cy="816.93" r="5.75"/><circle cx="1834.55" cy="817.39" r="5.75"/><circle cx="1829.17" cy="839.91" r="5.75"/><circle cx="1821.8" cy="795.55" r="5.75"/><circle cx="1826.37" cy="844.34" r="5.75"/><circle cx="1829.71" cy="823.47" r="5.75"/><circle cx="1831.19" cy="802.98" r="5.75"/><circle cx="1817.91" cy="813.89" r="5.75"/><circle cx="1836.15" cy="804.03" r="5.75"/><circle cx="1816.07" cy="796.55" r="5.75"/><circle cx="1813.91" cy="810.2" r="5.75"/><circle cx="1829.2" cy="852.27" r="5.75"/><circle cx="1822.27" cy="817.46" r="5.75"/><circle cx="1821.06" cy="812.46" r="5.75"/><circle cx="1835.06" cy="831.3" r="5.75"/><circle cx="1820.2" cy="797.2" r="5.75"/><circle cx="1835.24" cy="843.51" r="5.75"/><circle cx="1836.52" cy="807.3" r="5.75"/><circle cx="1828.41" cy="859.84" r="5.75"/><circle cx="1829.77" cy="861.9" r="5.75"/><circle cx="1817.59" cy="864.18" r="5.75"/><circle cx="1814.4" cy="821.06" r="5.75"/><circle cx="1832.47" cy="864.08" r="5.75"/><circle cx="1828.22" cy="865.2" r="5.75"/><circle cx="1834.24" cy="815.65" r="5.75"/><circle cx="1840.69" cy="818.03" r="5.75"/><circle cx="1818.33" cy="794.79" r="5.75"/><circle cx="1826.14" cy="804.11" r="5.75"/><circle cx="1818.98" cy="796.92" r="5.75"/><circle cx="1827.94" cy="802.03" r="5.75"/><circle cx="1828.36" cy="851.66" r="5.75"/><circle cx="1820.04" cy="821.48" r="5.75"/><circle cx="1838.59" cy="823.25" r="5.75"/><circle cx="1822.61" cy="857.8" r="5.75"/><circle cx="1836.09" cy="858.02" r="5.75"/><circle cx="1832.49" cy="820.78" r="5.75"/><circle cx="1832.64" cy="852.97" r="5.75"/><circle cx="1831.11" cy="807.34" r="5.75"/><circle cx="1821.25" cy="820.55" r="5.75"/><circle cx="1834.89" cy="831.93" r="5.75"/><circle cx="1828.54" cy="852.72" r="5.75"/><circle cx="1815.9" cy="837.65" r="5.75"/><circle cx="1822.32" cy="832.1" r="5.75"/><circle cx="1836.71" cy="808.1" r="5.75"/><circle cx="1840.04" cy="795" r="5.75"/><circle cx="1828.89" cy="830.75" r="5.75"/><circle cx="1819.53" cy="832.22" r="5.75"/><circle cx="1826.27" cy="823.63" r="5.75"/><circle cx="1833.36" cy="789.24" r="5.75"/><circle cx="1823.6" cy="849.56" r="5.75"/><circle cx="1816.86" cy="855.87" r="5.75"/><circle cx="1818.63" cy="841.5" r="5.75"/><circle cx="1817.75" cy="823.61" r="5.75"/><circle cx="1824.89" cy="795.25" r="5.75"/><circle cx="1832.83" cy="825.99" r="5.75"/><circle cx="1832.52" cy="830.54" r="5.75"/><circle cx="1828.71" cy="829.54" r="5.75"/><circle cx="1821.32" cy="858.29" r="5.75"/><circle cx="1837.52" cy="827.35" r="5.75"/><circle cx="1835.04" cy="840.9" r="5.75"/><circle cx="1830.12" cy="811.44" r="5.75"/><circle cx="1821.95" cy="815.9" r="5.75"/><circle cx="1821.45" cy="863" r="5.75"/><circle cx="1822.57" cy="818.84" r="5.75"/><circle cx="1824.81" cy="851.94" r="5.75"/><circle cx="1826.47" cy="831.67" r="5.75"/><circle cx="1820.11" cy="810.39" r="5.75"/><circle cx="1815.35" cy="805.7" r="5.75"/><circle cx="1820.35" cy="854.71" r="5.75"/><circle cx="1827.18" cy="797.45" r="5.75"/><circle cx="1826.04" cy="798.27" r="5.75"/><circle cx="1829" cy="823.06" r="5.75"/><circle cx="1837.37" cy="808.94" r="5.75"/><circle cx="1837.16" cy="808.04" r="5.75"/><circle cx="1840.93" cy="837.88" r="5.75"/><circle cx="1814.02" cy="851.23" r="5.75"/><circle cx="1820.69" cy="816.89" r="5.75"/><circle cx="1816.99" cy="853.56" r="5.75"/><circle cx="1815.38" cy="845.91" r="5.75"/><circle cx="1824.13" cy="841.37" r="5.75"/><circle cx="1821.19" cy="794.98" r="5.75"/><circle cx="1839" cy="839.46" r="5.75"/><circle cx="1817.66" cy="864.27" r="5.75"/><circle cx="1838.9" cy="803.03" r="5.75"/><circle cx="1813.34" cy="836.09" r="5.75"/><circle cx="1816.78" cy="845.42" r="5.75"/><circle cx="1826.22" cy="843.65" r="5.75"/><circle cx="1829.11" cy="848.41" r="5.75"/><circle cx="1836.32" cy="835.46" r="5.75"/><circle cx="1829.73" cy="814.16" r="5.75"/><circle cx="1816.64" cy="796.07" r="5.75"/><circle cx="1837.33" cy="804.84" r="5.75"/><circle cx="1825.01" cy="813.38" r="5.75"/><circle cx="1830.54" cy="830.09" r="5.75"/><circle cx="1837.39" cy="822.59" r="5.75"/><circle cx="1823.16" cy="839.19" r="5.75"/><circle cx="1834.12" cy="860.35" r="5.75"/><circle cx="1821.72" cy="857.35" r="5.75"/><circle cx="1816.5" cy="818.27" r="5.75"/><circle cx="1834.96" cy="853.07" r="5.75"/><circle cx="1813.93" cy="819.42" r="5.75"/><circle cx="1833.53" cy="847.45" r="5.75"/><circle cx="1828.12" cy="805.18" r="5.75"/><circle cx="1824.44" cy="793.45" r="5.75"/><circle cx="1821.83" cy="821.92" r="5.75"/><circle cx="1836.36" cy="834.41" r="5.75"/><circle cx="1824.66" cy="807.91" r="5.75"/><circle cx="1821.82" cy="840.7" r="5.75"/><circle cx="1825.55" cy="802.3" r="5.75"/><circle cx="1834.72" cy="788.47" r="5.75"/><circle cx="1838.17" cy="786.13" r="5.75"/><circle cx="1830.02" cy="779.63" r="5.75"/><circle cx="1829.67" cy="808.98" r="5.75"/><circle cx="1838.49" cy="793.57" r="5.75"/><circle cx="1825.46" cy="757.83" r="5.75"/><circle cx="1835.16" cy="777.47" r="5.75"/><circle cx="1824.33" cy="757.5" r="5.75"/><circle cx="1816.09" cy="777.42" r="5.75"/><circle cx="1838.34" cy="798.33" r="5.75"/><circle cx="1832.05" cy="794.02" r="5.75"/><circle cx="1821.74" cy="764.16" r="5.75"/><circle cx="1829.53" cy="757.88" r="5.75"/><circle cx="1829.19" cy="784.82" r="5.75"/><circle cx="1828.12" cy="761.33" r="5.75"/><circle cx="1816.89" cy="782.36" r="5.75"/><circle cx="1818.73" cy="792.41" r="5.75"/><circle cx="1822.61" cy="791.16" r="5.75"/><circle cx="1833.03" cy="790.32" r="5.75"/><circle cx="1827.86" cy="765.87" r="5.75"/><circle cx="1823.5" cy="812.51" r="5.75"/><circle cx="1821.64" cy="771.07" r="5.75"/><circle cx="1826.95" cy="786.7" r="5.75"/><circle cx="1833.99" cy="771.72" r="5.75"/><circle cx="1838.06" cy="755.41" r="5.75"/><circle cx="1833.98" cy="788.12" r="5.75"/><circle cx="1836.6" cy="763.23" r="5.75"/><circle cx="1831.59" cy="810.68" r="5.75"/><circle cx="1831.06" cy="760.8" r="5.75"/><circle cx="1837.07" cy="812.02" r="5.75"/><circle cx="1817.91" cy="803.51" r="5.75"/><circle cx="1817.16" cy="758.94" r="5.75"/><circle cx="1834.1" cy="797.1" r="5.75"/><circle cx="1837.92" cy="791.84" r="5.75"/><circle cx="1855.9" cy="764.6" r="5.75"/><circle cx="1856.74" cy="772.67" r="5.75"/><circle cx="1857.75" cy="771.36" r="5.75"/><circle cx="1851.6" cy="769.79" r="5.75"/><circle cx="1858.91" cy="762.35" r="5.75"/><circle cx="1860.12" cy="763.53" r="5.75"/><circle cx="1851.87" cy="762.24" r="5.75"/><circle cx="1859.6" cy="799" r="5.75"/><circle cx="1865.83" cy="798.4" r="5.75"/><circle cx="1862.52" cy="801.61" r="5.75"/><circle cx="1857.74" cy="800.82" r="5.75"/><circle cx="1862.3" cy="801.09" r="5.75"/><circle cx="1849.18" cy="801.77" r="5.75"/><circle cx="1853.16" cy="837.57" r="5.75"/><circle cx="1857.31" cy="840.75" r="5.75"/><circle cx="1854.75" cy="840.25" r="5.75"/><circle cx="1846.05" cy="835" r="5.75"/><circle cx="1861.44" cy="837.85" r="5.75"/><circle cx="1865.67" cy="833.82" r="5.75"/><circle cx="1864.93" cy="839.68" r="5.75"/><circle cx="1847.65" cy="833.15" r="5.75"/>
</g>
<text x="1749" y="942.07" text-anchor="end" font-size="28">-50</text>
<text x="1749" y="877.8" text-anchor="end" font-size="28">0</text>
<text x="1749" y="809.52" text-anchor="end" font-size="28">50</text>
<text x="1749" y="741.25" text-anchor="end" font-size="28">100</text>
<text x="1749" y="672.97" text-anchor="end" font-size="28">150</text>
<text x="1749" y="604.7" text-anchor="end" font-size="28">200</text>
<text x="1821.5" y="962.6" text-anchor="middle" font-size="28">0</text>
<text x="1889.78" y="962.6" text-anchor="middle" font-size="28">50</text>
<text x="1958.05" y="962.6" text-anchor="middle" font-size="28">100</text>
<text x="2026.33" y="962.6" text-anchor="middle" font-size="28">150</text>
<text x="2093.1" y="962.6" text-anchor="middle" font-size="28">200</text>
<text x="1925.9" y="580.6" text-anchor="middle">Naive</text>
<text x="2091.8" y="891.5" text-anchor="end">n = 41</text>
<text x="2094.5" y="925.6" text-anchor="end">(VGAT+)</text>
<text text-anchor="middle" transform="translate(1648.5 760) rotate(-90)">Response strength</text>
<text text-anchor="middle" transform="translate(1681.6 760) rotate(-90)">to M2 stimulation (sp/s)</text>
<text x="1932.2" y="989.1" text-anchor="middle">Response strength</text>
<text x="1928.7" y="1021" text-anchor="middle">to <tspan font-weight="bold" font-style="italic">tone</tspan> (sp/s)</text>
</g>
<g id="p-j">
<text x="1.2" y="1059.8" font-weight="bold" class="b" font-size="30.5">j</text>
<rect x="118.5" y="1229.5" width="40.1" height="223.8" fill="#c76dab"/>
<rect x="168.7" y="1200.4" width="40.2" height="252.9" fill="#6ebe44"/>
<rect x="218.6" y="1158.2" width="40.1" height="295.1" fill="#5a5a5a"/>
<path d="M269.7 1453.3 L269.7 1130 L307.7 1130 L307.7 1453.3" fill="#fff" stroke="#000" stroke-width="2.6"/>
<path d="M320 1453.3 L320 1366.6 L357.9 1366.6 L357.9 1453.3" fill="#fff" stroke="#000" stroke-width="2.6"/>
<path d="M369.8 1453.3 L369.8 1321.2 L407.8 1321.2 L407.8 1453.3" fill="#fff" stroke="#000" stroke-width="2.6"/>
<path d="M420.1 1453.3 L420.1 1227.3 L458 1227.3 L458 1453.3" fill="#fff" stroke="#000" stroke-width="2.6"/>
<line x1="138.6" y1="1173.7" x2="138.6" y2="1285.3" stroke="#000" stroke-width="2.5"/>
<line x1="188.8" y1="1139.5" x2="188.8" y2="1261" stroke="#000" stroke-width="2.5"/>
<line x1="238.7" y1="1111.7" x2="238.7" y2="1204.9" stroke="#000" stroke-width="2.5"/>
<line x1="288.5" y1="1094.1" x2="288.5" y2="1163.7" stroke="#000" stroke-width="2.5"/>
<line x1="338.8" y1="1344.2" x2="338.8" y2="1387.5" stroke="#000" stroke-width="2.5"/>
<line x1="388.6" y1="1276.6" x2="388.6" y2="1364.6" stroke="#000" stroke-width="2.5"/>
<line x1="438.9" y1="1178.9" x2="438.9" y2="1273.9" stroke="#000" stroke-width="2.5"/>
<path d="M102.2 1063.6 L102.2 1453.3 L472.8 1453.3" fill="none" stroke="#000" stroke-width="2.3"/>
<path d="M102.2 1388.38h4.5M102.2 1323.46h4.5M102.2 1258.54h4.5M102.2 1193.62h4.5M102.2 1128.7h4.5" stroke="#000" stroke-width="1.6" fill="none"/>
<text x="99" y="1136.7" text-anchor="end">1</text>
<text x="98.3" y="1463.1" text-anchor="end">0</text>
<text text-anchor="middle" transform="translate(64 1250.8) rotate(-90)">Slope of linear fit</text>
<text fill="#c77db5" style="stroke:#c77db5" font-size="27.2" transform="translate(121.4 1472.6) rotate(45)">PV+</text>
<text fill="#6ebe44" style="stroke:#6ebe44" font-size="27.2" transform="translate(168.6 1472.9) rotate(45)">SST+</text>
<text fill="#666" style="stroke:#666" font-size="27.2" transform="translate(215.5 1472.6) rotate(45)">VGAT+</text>
<text font-size="27.2" transform="translate(269 1473.1) rotate(45)">All pi-INs</text>
<text font-size="27.2" transform="translate(321.4 1473.1) rotate(45)">Unexpected</text>
<text font-size="27.2" transform="translate(373.6 1473.4) rotate(45)">Naive</text>
<text font-size="27.2" transform="translate(422.8 1473.9) rotate(45)">put-ENs</text>
</g>
</svg>
</body></html>
